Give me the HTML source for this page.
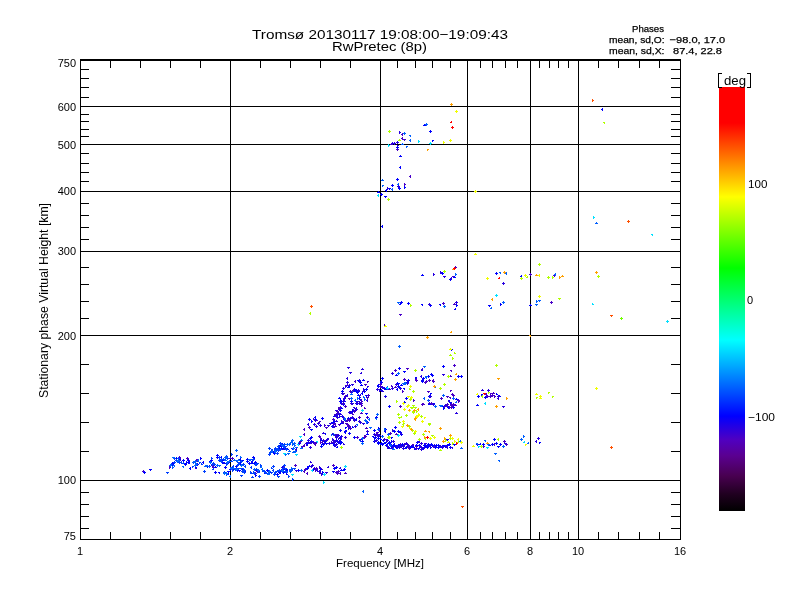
<!DOCTYPE html>
<html><head><meta charset="utf-8"><style>
html,body{margin:0;padding:0;background:#fff;width:800px;height:600px;overflow:hidden}
svg{display:block}
text{font-family:"Liberation Sans",sans-serif;fill:#000;stroke:#000;stroke-width:0px}
</style></head><body>
<svg width="800" height="600" viewBox="0 0 800 600" shape-rendering="crispEdges">
<defs><linearGradient id="cb" x1="0" y1="1" x2="0" y2="0">
<stop offset="0" stop-color="#000"/>
<stop offset="0.040" stop-color="#200020"/>
<stop offset="0.0825" stop-color="#480050"/>
<stop offset="0.13" stop-color="#5a0090"/>
<stop offset="0.1675" stop-color="#5000c0"/>
<stop offset="0.224" stop-color="#0000ff"/>
<stop offset="0.403" stop-color="#00ffff"/>
<stop offset="0.573" stop-color="#00ff00"/>
<stop offset="0.741" stop-color="#ffff00"/>
<stop offset="0.915" stop-color="#ff0000"/>
<stop offset="1" stop-color="#ff0000"/>
</linearGradient></defs>
<rect x="719" y="87" width="26" height="424" fill="url(#cb)"/>
<g><rect x="230" y="59" width="1" height="480" fill="#000"/>
<rect x="380" y="59" width="1" height="480" fill="#000"/>
<rect x="467" y="59" width="1" height="480" fill="#000"/>
<rect x="530" y="59" width="1" height="480" fill="#000"/>
<rect x="578" y="59" width="1" height="480" fill="#000"/>
<rect x="80" y="480" width="600" height="1" fill="#000"/>
<rect x="80" y="335" width="600" height="1" fill="#000"/>
<rect x="80" y="251" width="600" height="1" fill="#000"/>
<rect x="80" y="191" width="600" height="1" fill="#000"/>
<rect x="80" y="144" width="600" height="1" fill="#000"/>
<rect x="80" y="106" width="600" height="1" fill="#000"/>
<rect x="80" y="59" width="601" height="2" fill="#000"/>
<rect x="80" y="539" width="601" height="1" fill="#000"/>
<rect x="80" y="59" width="1" height="481" fill="#000"/>
<rect x="680" y="59" width="1" height="481" fill="#000"/>
<rect x="110" y="532" width="1" height="7" fill="#000"/>
<rect x="110" y="61" width="1" height="7" fill="#000"/>
<rect x="140" y="532" width="1" height="7" fill="#000"/>
<rect x="140" y="61" width="1" height="7" fill="#000"/>
<rect x="170" y="532" width="1" height="7" fill="#000"/>
<rect x="170" y="61" width="1" height="7" fill="#000"/>
<rect x="200" y="532" width="1" height="7" fill="#000"/>
<rect x="200" y="61" width="1" height="7" fill="#000"/>
<rect x="260" y="532" width="1" height="7" fill="#000"/>
<rect x="260" y="61" width="1" height="7" fill="#000"/>
<rect x="290" y="532" width="1" height="7" fill="#000"/>
<rect x="290" y="61" width="1" height="7" fill="#000"/>
<rect x="320" y="532" width="1" height="7" fill="#000"/>
<rect x="320" y="61" width="1" height="7" fill="#000"/>
<rect x="350" y="532" width="1" height="7" fill="#000"/>
<rect x="350" y="61" width="1" height="7" fill="#000"/>
<rect x="397" y="532" width="1" height="7" fill="#000"/>
<rect x="397" y="61" width="1" height="7" fill="#000"/>
<rect x="415" y="532" width="1" height="7" fill="#000"/>
<rect x="415" y="61" width="1" height="7" fill="#000"/>
<rect x="432" y="532" width="1" height="7" fill="#000"/>
<rect x="432" y="61" width="1" height="7" fill="#000"/>
<rect x="450" y="532" width="1" height="7" fill="#000"/>
<rect x="450" y="61" width="1" height="7" fill="#000"/>
<rect x="480" y="532" width="1" height="7" fill="#000"/>
<rect x="480" y="61" width="1" height="7" fill="#000"/>
<rect x="492" y="532" width="1" height="7" fill="#000"/>
<rect x="492" y="61" width="1" height="7" fill="#000"/>
<rect x="505" y="532" width="1" height="7" fill="#000"/>
<rect x="505" y="61" width="1" height="7" fill="#000"/>
<rect x="517" y="532" width="1" height="7" fill="#000"/>
<rect x="517" y="61" width="1" height="7" fill="#000"/>
<rect x="539" y="532" width="1" height="7" fill="#000"/>
<rect x="539" y="61" width="1" height="7" fill="#000"/>
<rect x="549" y="532" width="1" height="7" fill="#000"/>
<rect x="549" y="61" width="1" height="7" fill="#000"/>
<rect x="558" y="532" width="1" height="7" fill="#000"/>
<rect x="558" y="61" width="1" height="7" fill="#000"/>
<rect x="568" y="532" width="1" height="7" fill="#000"/>
<rect x="568" y="61" width="1" height="7" fill="#000"/>
<rect x="598" y="532" width="1" height="7" fill="#000"/>
<rect x="598" y="61" width="1" height="7" fill="#000"/>
<rect x="618" y="532" width="1" height="7" fill="#000"/>
<rect x="618" y="61" width="1" height="7" fill="#000"/>
<rect x="639" y="532" width="1" height="7" fill="#000"/>
<rect x="639" y="61" width="1" height="7" fill="#000"/>
<rect x="659" y="532" width="1" height="7" fill="#000"/>
<rect x="659" y="61" width="1" height="7" fill="#000"/>
<rect x="81" y="69" width="8" height="1" fill="#000"/>
<rect x="671" y="69" width="9" height="1" fill="#000"/>
<rect x="81" y="78" width="8" height="1" fill="#000"/>
<rect x="671" y="78" width="9" height="1" fill="#000"/>
<rect x="81" y="87" width="8" height="1" fill="#000"/>
<rect x="671" y="87" width="9" height="1" fill="#000"/>
<rect x="81" y="97" width="8" height="1" fill="#000"/>
<rect x="671" y="97" width="9" height="1" fill="#000"/>
<rect x="81" y="114" width="8" height="1" fill="#000"/>
<rect x="671" y="114" width="9" height="1" fill="#000"/>
<rect x="81" y="121" width="8" height="1" fill="#000"/>
<rect x="671" y="121" width="9" height="1" fill="#000"/>
<rect x="81" y="129" width="8" height="1" fill="#000"/>
<rect x="671" y="129" width="9" height="1" fill="#000"/>
<rect x="81" y="136" width="8" height="1" fill="#000"/>
<rect x="671" y="136" width="9" height="1" fill="#000"/>
<rect x="81" y="153" width="8" height="1" fill="#000"/>
<rect x="671" y="153" width="9" height="1" fill="#000"/>
<rect x="81" y="163" width="8" height="1" fill="#000"/>
<rect x="671" y="163" width="9" height="1" fill="#000"/>
<rect x="81" y="172" width="8" height="1" fill="#000"/>
<rect x="671" y="172" width="9" height="1" fill="#000"/>
<rect x="81" y="181" width="8" height="1" fill="#000"/>
<rect x="671" y="181" width="9" height="1" fill="#000"/>
<rect x="81" y="203" width="8" height="1" fill="#000"/>
<rect x="671" y="203" width="9" height="1" fill="#000"/>
<rect x="81" y="215" width="8" height="1" fill="#000"/>
<rect x="671" y="215" width="9" height="1" fill="#000"/>
<rect x="81" y="227" width="8" height="1" fill="#000"/>
<rect x="671" y="227" width="9" height="1" fill="#000"/>
<rect x="81" y="239" width="8" height="1" fill="#000"/>
<rect x="671" y="239" width="9" height="1" fill="#000"/>
<rect x="81" y="267" width="8" height="1" fill="#000"/>
<rect x="671" y="267" width="9" height="1" fill="#000"/>
<rect x="81" y="284" width="8" height="1" fill="#000"/>
<rect x="671" y="284" width="9" height="1" fill="#000"/>
<rect x="81" y="301" width="8" height="1" fill="#000"/>
<rect x="671" y="301" width="9" height="1" fill="#000"/>
<rect x="81" y="318" width="8" height="1" fill="#000"/>
<rect x="671" y="318" width="9" height="1" fill="#000"/>
<rect x="81" y="364" width="8" height="1" fill="#000"/>
<rect x="671" y="364" width="9" height="1" fill="#000"/>
<rect x="81" y="393" width="8" height="1" fill="#000"/>
<rect x="671" y="393" width="9" height="1" fill="#000"/>
<rect x="81" y="422" width="8" height="1" fill="#000"/>
<rect x="671" y="422" width="9" height="1" fill="#000"/>
<rect x="81" y="451" width="8" height="1" fill="#000"/>
<rect x="671" y="451" width="9" height="1" fill="#000"/>
<rect x="81" y="492" width="8" height="1" fill="#000"/>
<rect x="671" y="492" width="9" height="1" fill="#000"/>
<rect x="81" y="504" width="8" height="1" fill="#000"/>
<rect x="671" y="504" width="9" height="1" fill="#000"/>
<rect x="81" y="516" width="8" height="1" fill="#000"/>
<rect x="671" y="516" width="9" height="1" fill="#000"/>
<rect x="81" y="528" width="8" height="1" fill="#000"/>
<rect x="671" y="528" width="9" height="1" fill="#000"/></g>
<g><path d="M143 471h1v1h-1zM143 470h1v1h-1zM144 471h1v1h-1zM143 472h1v1h-1zM142 471h1v1h-1zM169 467h1v1h-1zM169 466h1v1h-1zM170 467h1v1h-1zM169 468h1v1h-1zM180 459h1v1h-1zM180 458h1v1h-1zM180 460h1v1h-1zM179 459h1v1h-1zM188 460h1v1h-1zM188 459h1v1h-1zM189 460h1v1h-1zM187 460h1v1h-1zM195 468h1v1h-1zM195 467h1v1h-1zM196 468h1v1h-1zM197 460h1v1h-1zM197 459h1v1h-1zM198 460h1v1h-1zM197 461h1v1h-1zM196 460h1v1h-1zM212 465h1v1h-1zM212 464h1v1h-1zM213 465h1v1h-1zM212 466h1v1h-1zM211 465h1v1h-1zM230 458h1v1h-1zM230 457h1v1h-1zM231 458h1v1h-1zM229 458h1v1h-1zM255 473h1v1h-1zM255 472h1v1h-1zM256 473h1v1h-1zM255 474h1v1h-1zM254 473h1v1h-1zM282 467h1v1h-1zM282 466h1v1h-1zM281 467h1v1h-1zM282 449h1v1h-1zM282 448h1v1h-1zM283 449h1v1h-1zM281 449h1v1h-1zM295 465h1v1h-1zM295 464h1v1h-1zM296 465h1v1h-1zM295 466h1v1h-1zM294 465h1v1h-1zM304 471h1v1h-1zM304 470h1v1h-1zM304 472h1v1h-1zM303 471h1v1h-1zM307 473h1v1h-1zM307 472h1v1h-1zM307 474h1v1h-1zM306 473h1v1h-1zM315 470h1v1h-1zM315 469h1v1h-1zM316 470h1v1h-1zM315 471h1v1h-1zM319 471h1v1h-1zM319 470h1v1h-1zM320 471h1v1h-1zM319 472h1v1h-1zM318 471h1v1h-1zM321 474h1v1h-1zM321 473h1v1h-1zM322 474h1v1h-1zM321 475h1v1h-1zM333 465h1v1h-1zM333 464h1v1h-1zM334 465h1v1h-1zM333 466h1v1h-1zM332 465h1v1h-1zM336 472h1v1h-1zM336 471h1v1h-1zM337 472h1v1h-1zM335 472h1v1h-1zM338 471h1v1h-1zM338 470h1v1h-1zM339 471h1v1h-1zM337 471h1v1h-1zM340 473h1v1h-1zM340 472h1v1h-1zM340 474h1v1h-1zM339 473h1v1h-1zM345 473h1v1h-1zM345 472h1v1h-1zM346 473h1v1h-1zM344 473h1v1h-1zM304 445h1v1h-1zM304 444h1v1h-1zM304 446h1v1h-1zM303 445h1v1h-1zM315 444h1v1h-1zM315 443h1v1h-1zM315 445h1v1h-1zM314 444h1v1h-1zM320 442h1v1h-1zM320 441h1v1h-1zM321 442h1v1h-1zM320 443h1v1h-1zM304 429h1v1h-1zM304 428h1v1h-1zM304 430h1v1h-1zM303 429h1v1h-1zM304 434h1v1h-1zM304 433h1v1h-1zM304 435h1v1h-1zM303 434h1v1h-1zM309 427h1v1h-1zM309 426h1v1h-1zM310 427h1v1h-1zM309 428h1v1h-1zM308 427h1v1h-1zM316 420h1v1h-1zM316 419h1v1h-1zM317 420h1v1h-1zM315 420h1v1h-1zM319 421h1v1h-1zM320 421h1v1h-1zM319 422h1v1h-1zM326 427h1v1h-1zM327 427h1v1h-1zM326 428h1v1h-1zM325 427h1v1h-1zM319 436h1v1h-1zM319 435h1v1h-1zM320 436h1v1h-1zM319 437h1v1h-1zM318 436h1v1h-1zM307 443h1v1h-1zM307 442h1v1h-1zM308 443h1v1h-1zM315 443h1v1h-1zM315 442h1v1h-1zM316 443h1v1h-1zM315 444h1v1h-1zM322 441h1v1h-1zM322 440h1v1h-1zM323 441h1v1h-1zM322 442h1v1h-1zM333 423h1v1h-1zM333 422h1v1h-1zM334 423h1v1h-1zM333 424h1v1h-1zM332 423h1v1h-1zM365 384h1v1h-1zM366 384h1v1h-1zM365 385h1v1h-1zM364 384h1v1h-1zM349 385h1v1h-1zM349 384h1v1h-1zM349 386h1v1h-1zM348 385h1v1h-1zM345 396h1v1h-1zM345 395h1v1h-1zM346 396h1v1h-1zM345 397h1v1h-1zM344 396h1v1h-1zM349 398h1v1h-1zM349 399h1v1h-1zM348 398h1v1h-1zM380 386h1v1h-1zM381 386h1v1h-1zM380 387h1v1h-1zM379 386h1v1h-1zM352 403h1v1h-1zM353 403h1v1h-1zM352 404h1v1h-1zM351 403h1v1h-1zM340 407h1v1h-1zM340 406h1v1h-1zM340 408h1v1h-1zM339 407h1v1h-1zM334 421h1v1h-1zM334 420h1v1h-1zM335 421h1v1h-1zM334 422h1v1h-1zM333 421h1v1h-1zM334 424h1v1h-1zM334 423h1v1h-1zM335 424h1v1h-1zM333 424h1v1h-1zM347 424h1v1h-1zM347 423h1v1h-1zM348 424h1v1h-1zM347 425h1v1h-1zM346 424h1v1h-1zM352 414h1v1h-1zM352 413h1v1h-1zM353 414h1v1h-1zM359 417h1v1h-1zM359 416h1v1h-1zM360 417h1v1h-1zM359 418h1v1h-1zM358 417h1v1h-1zM364 408h1v1h-1zM364 407h1v1h-1zM365 408h1v1h-1zM361 413h1v1h-1zM361 412h1v1h-1zM362 413h1v1h-1zM360 413h1v1h-1zM341 439h1v1h-1zM341 438h1v1h-1zM340 439h1v1h-1zM366 428h1v1h-1zM366 427h1v1h-1zM367 428h1v1h-1zM365 428h1v1h-1zM357 437h1v1h-1zM357 436h1v1h-1zM358 437h1v1h-1zM357 438h1v1h-1zM356 437h1v1h-1zM364 436h1v1h-1zM364 435h1v1h-1zM365 436h1v1h-1zM364 437h1v1h-1zM376 434h1v1h-1zM376 433h1v1h-1zM377 434h1v1h-1zM376 435h1v1h-1zM375 434h1v1h-1zM384 439h1v1h-1zM384 438h1v1h-1zM385 439h1v1h-1zM384 440h1v1h-1zM383 439h1v1h-1zM395 370h1v1h-1zM395 369h1v1h-1zM396 370h1v1h-1zM395 371h1v1h-1zM394 370h1v1h-1zM407 368h1v1h-1zM408 368h1v1h-1zM407 369h1v1h-1zM406 368h1v1h-1zM422 369h1v1h-1zM422 368h1v1h-1zM421 369h1v1h-1zM429 380h1v1h-1zM429 379h1v1h-1zM430 380h1v1h-1zM433 380h1v1h-1zM433 379h1v1h-1zM433 381h1v1h-1zM432 380h1v1h-1zM416 379h1v1h-1zM416 378h1v1h-1zM415 379h1v1h-1zM404 379h1v1h-1zM404 378h1v1h-1zM405 379h1v1h-1zM404 380h1v1h-1zM403 379h1v1h-1zM382 387h1v1h-1zM382 386h1v1h-1zM383 387h1v1h-1zM382 388h1v1h-1zM391 386h1v1h-1zM391 385h1v1h-1zM392 386h1v1h-1zM395 387h1v1h-1zM395 386h1v1h-1zM396 387h1v1h-1zM394 387h1v1h-1zM402 391h1v1h-1zM402 390h1v1h-1zM403 391h1v1h-1zM402 392h1v1h-1zM380 384h1v1h-1zM380 383h1v1h-1zM381 384h1v1h-1zM380 385h1v1h-1zM379 384h1v1h-1zM416 380h1v1h-1zM417 380h1v1h-1zM416 381h1v1h-1zM415 380h1v1h-1zM425 382h1v1h-1zM425 381h1v1h-1zM425 383h1v1h-1zM424 382h1v1h-1zM413 400h1v1h-1zM413 399h1v1h-1zM414 400h1v1h-1zM413 401h1v1h-1zM400 406h1v1h-1zM400 405h1v1h-1zM401 406h1v1h-1zM400 407h1v1h-1zM399 406h1v1h-1zM422 404h1v1h-1zM422 403h1v1h-1zM423 404h1v1h-1zM422 405h1v1h-1zM421 404h1v1h-1zM428 391h1v1h-1zM429 391h1v1h-1zM428 392h1v1h-1zM427 391h1v1h-1zM454 365h1v1h-1zM454 364h1v1h-1zM455 365h1v1h-1zM454 366h1v1h-1zM453 365h1v1h-1zM451 370h1v1h-1zM451 371h1v1h-1zM450 370h1v1h-1zM450 376h1v1h-1zM450 375h1v1h-1zM451 376h1v1h-1zM426 381h1v1h-1zM426 380h1v1h-1zM427 381h1v1h-1zM426 382h1v1h-1zM425 381h1v1h-1zM429 380h1v1h-1zM429 379h1v1h-1zM429 381h1v1h-1zM428 380h1v1h-1zM433 381h1v1h-1zM433 380h1v1h-1zM434 381h1v1h-1zM433 382h1v1h-1zM432 381h1v1h-1zM450 390h1v1h-1zM451 390h1v1h-1zM450 391h1v1h-1zM428 391h1v1h-1zM429 391h1v1h-1zM428 392h1v1h-1zM427 391h1v1h-1zM447 396h1v1h-1zM448 396h1v1h-1zM447 397h1v1h-1zM446 396h1v1h-1zM441 398h1v1h-1zM441 397h1v1h-1zM442 398h1v1h-1zM441 399h1v1h-1zM440 398h1v1h-1zM452 394h1v1h-1zM452 393h1v1h-1zM451 394h1v1h-1zM453 395h1v1h-1zM453 394h1v1h-1zM454 395h1v1h-1zM453 396h1v1h-1zM452 395h1v1h-1zM450 397h1v1h-1zM450 398h1v1h-1zM449 397h1v1h-1zM458 400h1v1h-1zM458 399h1v1h-1zM459 400h1v1h-1zM458 401h1v1h-1zM457 400h1v1h-1zM429 403h1v1h-1zM429 402h1v1h-1zM430 403h1v1h-1zM428 403h1v1h-1zM447 404h1v1h-1zM447 403h1v1h-1zM448 404h1v1h-1zM447 405h1v1h-1zM446 404h1v1h-1zM451 404h1v1h-1zM451 403h1v1h-1zM452 404h1v1h-1zM451 405h1v1h-1zM450 404h1v1h-1zM453 404h1v1h-1zM453 403h1v1h-1zM454 404h1v1h-1zM453 405h1v1h-1zM423 404h1v1h-1zM423 403h1v1h-1zM424 404h1v1h-1zM422 404h1v1h-1zM431 403h1v1h-1zM431 402h1v1h-1zM432 403h1v1h-1zM431 404h1v1h-1zM430 403h1v1h-1zM444 406h1v1h-1zM444 405h1v1h-1zM445 406h1v1h-1zM444 407h1v1h-1zM443 406h1v1h-1zM447 406h1v1h-1zM447 405h1v1h-1zM448 406h1v1h-1zM451 405h1v1h-1zM451 404h1v1h-1zM451 406h1v1h-1zM450 405h1v1h-1zM453 405h1v1h-1zM453 404h1v1h-1zM454 405h1v1h-1zM449 407h1v1h-1zM449 406h1v1h-1zM449 408h1v1h-1zM448 407h1v1h-1zM458 401h1v1h-1zM458 400h1v1h-1zM459 401h1v1h-1zM458 402h1v1h-1zM409 448h1v1h-1zM409 449h1v1h-1zM408 448h1v1h-1zM414 448h1v1h-1zM414 447h1v1h-1zM415 448h1v1h-1zM414 449h1v1h-1zM366 428h1v1h-1zM366 427h1v1h-1zM367 428h1v1h-1zM365 428h1v1h-1zM379 430h1v1h-1zM379 431h1v1h-1zM378 430h1v1h-1zM377 432h1v1h-1zM378 432h1v1h-1zM377 433h1v1h-1zM376 432h1v1h-1zM384 439h1v1h-1zM384 438h1v1h-1zM385 439h1v1h-1zM384 440h1v1h-1zM383 439h1v1h-1zM386 440h1v1h-1zM386 439h1v1h-1zM387 440h1v1h-1zM386 441h1v1h-1zM390 433h1v1h-1zM390 432h1v1h-1zM391 433h1v1h-1zM390 434h1v1h-1zM389 433h1v1h-1zM396 434h1v1h-1zM396 433h1v1h-1zM397 434h1v1h-1zM395 434h1v1h-1zM365 436h1v1h-1zM365 435h1v1h-1zM366 436h1v1h-1zM365 437h1v1h-1zM364 436h1v1h-1zM446 406h1v1h-1zM446 405h1v1h-1zM447 406h1v1h-1zM445 406h1v1h-1zM451 407h1v1h-1zM452 407h1v1h-1zM451 408h1v1h-1zM450 407h1v1h-1zM452 405h1v1h-1zM453 405h1v1h-1zM452 406h1v1h-1zM451 405h1v1h-1zM455 405h1v1h-1zM455 404h1v1h-1zM456 405h1v1h-1zM486 394h1v1h-1zM486 393h1v1h-1zM486 395h1v1h-1zM485 394h1v1h-1zM487 396h1v1h-1zM487 395h1v1h-1zM488 396h1v1h-1zM487 397h1v1h-1zM486 396h1v1h-1zM490 393h1v1h-1zM491 393h1v1h-1zM490 394h1v1h-1zM490 396h1v1h-1zM490 395h1v1h-1zM491 396h1v1h-1zM490 397h1v1h-1zM489 396h1v1h-1zM492 395h1v1h-1zM492 394h1v1h-1zM493 395h1v1h-1zM492 396h1v1h-1zM491 395h1v1h-1zM493 393h1v1h-1zM493 392h1v1h-1zM494 393h1v1h-1zM492 393h1v1h-1zM494 396h1v1h-1zM494 395h1v1h-1zM495 396h1v1h-1zM494 397h1v1h-1zM483 446h1v1h-1zM483 445h1v1h-1zM484 446h1v1h-1zM483 447h1v1h-1zM482 446h1v1h-1zM494 444h1v1h-1zM494 443h1v1h-1zM494 445h1v1h-1zM493 444h1v1h-1zM504 441h1v1h-1zM504 440h1v1h-1zM505 441h1v1h-1zM504 442h1v1h-1zM503 441h1v1h-1zM506 444h1v1h-1zM507 444h1v1h-1zM506 445h1v1h-1zM505 444h1v1h-1zM402 134h1v1h-1zM402 133h1v1h-1zM402 135h1v1h-1zM401 134h1v1h-1zM402 138h1v1h-1zM402 137h1v1h-1zM402 139h1v1h-1zM401 138h1v1h-1zM404 139h1v1h-1zM405 139h1v1h-1zM404 140h1v1h-1zM403 139h1v1h-1zM397 149h1v1h-1zM397 148h1v1h-1zM398 149h1v1h-1zM397 150h1v1h-1zM396 149h1v1h-1zM391 144h1v1h-1zM391 143h1v1h-1zM392 144h1v1h-1zM390 144h1v1h-1zM410 176h1v1h-1zM410 175h1v1h-1zM410 177h1v1h-1zM409 176h1v1h-1zM404 184h1v1h-1zM404 183h1v1h-1zM405 184h1v1h-1zM404 185h1v1h-1zM455 267h1v1h-1zM455 266h1v1h-1zM456 267h1v1h-1zM455 268h1v1h-1zM453 276h1v1h-1zM454 276h1v1h-1zM453 277h1v1h-1zM452 276h1v1h-1zM443 303h1v1h-1zM443 302h1v1h-1zM444 303h1v1h-1zM443 304h1v1h-1zM442 303h1v1h-1zM454 304h1v1h-1zM454 303h1v1h-1zM455 304h1v1h-1zM453 304h1v1h-1zM400 314h1v1h-1zM401 314h1v1h-1zM400 315h1v1h-1zM399 314h1v1h-1zM384 325h1v1h-1zM384 324h1v1h-1zM385 325h1v1h-1zM384 326h1v1h-1zM530 274h1v1h-1zM530 273h1v1h-1zM531 274h1v1h-1zM530 275h1v1h-1zM529 274h1v1h-1zM554 275h1v1h-1zM554 274h1v1h-1zM555 275h1v1h-1zM554 276h1v1h-1zM553 275h1v1h-1zM551 302h1v1h-1zM551 301h1v1h-1zM552 302h1v1h-1zM551 303h1v1h-1zM550 302h1v1h-1zM388 448h1v1h-1zM388 447h1v1h-1zM389 448h1v1h-1zM387 448h1v1h-1zM400 444h1v1h-1zM400 443h1v1h-1zM401 444h1v1h-1zM400 445h1v1h-1zM409 446h1v1h-1zM409 445h1v1h-1zM409 447h1v1h-1zM408 446h1v1h-1zM408 447h1v1h-1zM408 446h1v1h-1zM409 447h1v1h-1zM408 448h1v1h-1zM407 447h1v1h-1zM412 444h1v1h-1zM413 444h1v1h-1zM412 445h1v1h-1zM416 446h1v1h-1zM416 445h1v1h-1zM417 446h1v1h-1zM416 447h1v1h-1zM415 446h1v1h-1zM427 447h1v1h-1zM427 446h1v1h-1zM428 447h1v1h-1zM427 448h1v1h-1zM426 447h1v1h-1zM433 446h1v1h-1zM433 445h1v1h-1zM434 446h1v1h-1zM433 447h1v1h-1zM434 445h1v1h-1zM434 444h1v1h-1zM434 446h1v1h-1zM433 445h1v1h-1zM442 447h1v1h-1zM442 446h1v1h-1zM443 447h1v1h-1zM442 448h1v1h-1zM441 447h1v1h-1zM445 446h1v1h-1zM445 445h1v1h-1zM446 446h1v1h-1zM445 447h1v1h-1zM444 446h1v1h-1zM179 457h1v1h-1zM179 456h1v1h-1zM180 457h1v1h-1zM187 458h1v1h-1zM187 457h1v1h-1zM188 458h1v1h-1zM187 459h1v1h-1zM186 458h1v1h-1zM196 460h1v1h-1zM196 459h1v1h-1zM196 461h1v1h-1zM195 460h1v1h-1zM213 467h1v1h-1zM213 466h1v1h-1zM214 467h1v1h-1zM213 468h1v1h-1zM212 467h1v1h-1zM232 458h1v1h-1zM232 457h1v1h-1zM233 458h1v1h-1zM232 459h1v1h-1zM231 458h1v1h-1zM257 471h1v1h-1zM258 471h1v1h-1zM257 472h1v1h-1zM256 471h1v1h-1zM283 467h1v1h-1zM283 466h1v1h-1zM284 467h1v1h-1zM283 468h1v1h-1zM282 467h1v1h-1zM281 448h1v1h-1zM281 447h1v1h-1zM282 448h1v1h-1zM281 449h1v1h-1zM280 448h1v1h-1zM305 469h1v1h-1zM305 468h1v1h-1zM306 469h1v1h-1zM305 470h1v1h-1zM304 469h1v1h-1zM316 468h1v1h-1zM316 467h1v1h-1zM317 468h1v1h-1zM316 469h1v1h-1zM315 468h1v1h-1zM321 469h1v1h-1zM321 468h1v1h-1zM322 469h1v1h-1zM320 469h1v1h-1zM320 473h1v1h-1zM320 472h1v1h-1zM321 473h1v1h-1zM319 473h1v1h-1zM338 472h1v1h-1zM338 471h1v1h-1zM338 473h1v1h-1zM337 472h1v1h-1zM337 473h1v1h-1zM338 473h1v1h-1zM337 474h1v1h-1zM336 473h1v1h-1zM338 471h1v1h-1zM338 472h1v1h-1zM337 471h1v1h-1zM302 446h1v1h-1zM303 446h1v1h-1zM302 447h1v1h-1zM301 446h1v1h-1zM314 443h1v1h-1zM314 442h1v1h-1zM315 443h1v1h-1zM314 444h1v1h-1zM313 443h1v1h-1zM322 444h1v1h-1zM322 443h1v1h-1zM323 444h1v1h-1zM315 420h1v1h-1zM315 419h1v1h-1zM316 420h1v1h-1zM315 421h1v1h-1zM314 420h1v1h-1zM318 423h1v1h-1zM318 422h1v1h-1zM319 423h1v1h-1zM317 423h1v1h-1zM306 443h1v1h-1zM306 442h1v1h-1zM306 444h1v1h-1zM305 443h1v1h-1zM316 442h1v1h-1zM316 441h1v1h-1zM317 442h1v1h-1zM316 443h1v1h-1zM323 440h1v1h-1zM323 439h1v1h-1zM324 440h1v1h-1zM323 441h1v1h-1zM322 440h1v1h-1zM334 423h1v1h-1zM334 422h1v1h-1zM335 423h1v1h-1zM334 424h1v1h-1zM333 423h1v1h-1zM347 385h1v1h-1zM347 384h1v1h-1zM346 385h1v1h-1zM351 403h1v1h-1zM351 402h1v1h-1zM352 403h1v1h-1zM351 404h1v1h-1zM350 403h1v1h-1zM339 409h1v1h-1zM339 410h1v1h-1zM338 409h1v1h-1zM333 419h1v1h-1zM333 418h1v1h-1zM334 419h1v1h-1zM333 420h1v1h-1zM332 419h1v1h-1zM335 426h1v1h-1zM335 425h1v1h-1zM336 426h1v1h-1zM334 426h1v1h-1zM346 423h1v1h-1zM347 423h1v1h-1zM346 424h1v1h-1zM345 423h1v1h-1zM351 412h1v1h-1zM351 411h1v1h-1zM351 413h1v1h-1zM350 412h1v1h-1zM340 441h1v1h-1zM340 440h1v1h-1zM341 441h1v1h-1zM340 442h1v1h-1zM339 441h1v1h-1zM363 438h1v1h-1zM363 437h1v1h-1zM364 438h1v1h-1zM362 438h1v1h-1z" fill="#4800c8"/>
<path d="M144 472h1v1h-1zM144 471h1v1h-1zM145 472h1v1h-1zM144 473h1v1h-1zM143 472h1v1h-1zM150 469h1v1h-1zM151 469h1v1h-1zM150 470h1v1h-1zM149 469h1v1h-1zM172 464h1v1h-1zM172 463h1v1h-1zM173 464h1v1h-1zM172 465h1v1h-1zM171 464h1v1h-1zM176 458h1v1h-1zM176 457h1v1h-1zM177 458h1v1h-1zM176 459h1v1h-1zM185 464h1v1h-1zM185 463h1v1h-1zM186 464h1v1h-1zM185 465h1v1h-1zM184 464h1v1h-1zM186 462h1v1h-1zM186 461h1v1h-1zM187 462h1v1h-1zM186 463h1v1h-1zM189 462h1v1h-1zM189 461h1v1h-1zM189 463h1v1h-1zM188 462h1v1h-1zM200 458h1v1h-1zM200 457h1v1h-1zM201 458h1v1h-1zM200 459h1v1h-1zM203 462h1v1h-1zM203 461h1v1h-1zM203 463h1v1h-1zM202 462h1v1h-1zM207 466h1v1h-1zM207 465h1v1h-1zM208 466h1v1h-1zM207 467h1v1h-1zM210 461h1v1h-1zM210 460h1v1h-1zM210 462h1v1h-1zM209 461h1v1h-1zM215 467h1v1h-1zM215 466h1v1h-1zM216 467h1v1h-1zM214 467h1v1h-1zM217 457h1v1h-1zM217 456h1v1h-1zM218 457h1v1h-1zM217 458h1v1h-1zM216 457h1v1h-1zM222 462h1v1h-1zM222 461h1v1h-1zM223 462h1v1h-1zM222 463h1v1h-1zM221 462h1v1h-1zM225 467h1v1h-1zM225 466h1v1h-1zM226 467h1v1h-1zM225 468h1v1h-1zM224 467h1v1h-1zM215 472h1v1h-1zM215 471h1v1h-1zM216 472h1v1h-1zM215 473h1v1h-1zM214 472h1v1h-1zM219 472h1v1h-1zM219 473h1v1h-1zM218 472h1v1h-1zM228 471h1v1h-1zM229 471h1v1h-1zM228 472h1v1h-1zM227 471h1v1h-1zM228 474h1v1h-1zM228 473h1v1h-1zM227 474h1v1h-1zM240 459h1v1h-1zM240 458h1v1h-1zM240 460h1v1h-1zM239 459h1v1h-1zM245 470h1v1h-1zM245 471h1v1h-1zM244 470h1v1h-1zM237 470h1v1h-1zM237 469h1v1h-1zM238 470h1v1h-1zM237 471h1v1h-1zM236 470h1v1h-1zM239 470h1v1h-1zM240 470h1v1h-1zM239 471h1v1h-1zM238 470h1v1h-1zM247 459h1v1h-1zM247 458h1v1h-1zM248 459h1v1h-1zM247 460h1v1h-1zM246 459h1v1h-1zM247 461h1v1h-1zM247 460h1v1h-1zM248 461h1v1h-1zM247 462h1v1h-1zM246 461h1v1h-1zM254 458h1v1h-1zM254 457h1v1h-1zM254 459h1v1h-1zM253 458h1v1h-1zM251 461h1v1h-1zM252 461h1v1h-1zM251 462h1v1h-1zM254 463h1v1h-1zM255 463h1v1h-1zM254 464h1v1h-1zM253 463h1v1h-1zM255 475h1v1h-1zM255 474h1v1h-1zM256 475h1v1h-1zM255 476h1v1h-1zM259 471h1v1h-1zM259 470h1v1h-1zM258 471h1v1h-1zM267 470h1v1h-1zM267 469h1v1h-1zM268 470h1v1h-1zM267 471h1v1h-1zM266 470h1v1h-1zM279 472h1v1h-1zM279 471h1v1h-1zM280 472h1v1h-1zM279 473h1v1h-1zM278 472h1v1h-1zM281 470h1v1h-1zM281 469h1v1h-1zM281 471h1v1h-1zM280 470h1v1h-1zM283 472h1v1h-1zM284 472h1v1h-1zM283 473h1v1h-1zM279 447h1v1h-1zM279 446h1v1h-1zM279 448h1v1h-1zM278 447h1v1h-1zM281 446h1v1h-1zM281 445h1v1h-1zM282 446h1v1h-1zM281 447h1v1h-1zM280 446h1v1h-1zM273 452h1v1h-1zM273 451h1v1h-1zM273 453h1v1h-1zM272 452h1v1h-1zM280 445h1v1h-1zM280 444h1v1h-1zM281 445h1v1h-1zM280 446h1v1h-1zM279 445h1v1h-1zM282 467h1v1h-1zM282 466h1v1h-1zM283 467h1v1h-1zM282 468h1v1h-1zM281 470h1v1h-1zM281 469h1v1h-1zM282 470h1v1h-1zM281 471h1v1h-1zM280 470h1v1h-1zM285 470h1v1h-1zM285 469h1v1h-1zM286 470h1v1h-1zM287 469h1v1h-1zM287 470h1v1h-1zM286 469h1v1h-1zM286 474h1v1h-1zM286 473h1v1h-1zM287 474h1v1h-1zM298 470h1v1h-1zM298 469h1v1h-1zM299 470h1v1h-1zM298 471h1v1h-1zM297 470h1v1h-1zM307 468h1v1h-1zM307 467h1v1h-1zM308 468h1v1h-1zM307 469h1v1h-1zM306 468h1v1h-1zM309 466h1v1h-1zM309 465h1v1h-1zM310 466h1v1h-1zM308 466h1v1h-1zM320 469h1v1h-1zM320 468h1v1h-1zM321 469h1v1h-1zM320 470h1v1h-1zM322 472h1v1h-1zM322 471h1v1h-1zM323 472h1v1h-1zM322 473h1v1h-1zM334 468h1v1h-1zM334 467h1v1h-1zM335 468h1v1h-1zM334 469h1v1h-1zM333 468h1v1h-1zM333 471h1v1h-1zM334 471h1v1h-1zM333 472h1v1h-1zM332 471h1v1h-1zM341 470h1v1h-1zM341 469h1v1h-1zM342 470h1v1h-1zM340 470h1v1h-1zM344 469h1v1h-1zM344 468h1v1h-1zM345 469h1v1h-1zM343 469h1v1h-1zM284 448h1v1h-1zM284 447h1v1h-1zM285 448h1v1h-1zM284 449h1v1h-1zM283 448h1v1h-1zM287 449h1v1h-1zM287 448h1v1h-1zM288 449h1v1h-1zM286 449h1v1h-1zM292 448h1v1h-1zM293 448h1v1h-1zM292 449h1v1h-1zM291 448h1v1h-1zM292 441h1v1h-1zM292 440h1v1h-1zM292 442h1v1h-1zM291 441h1v1h-1zM307 443h1v1h-1zM307 442h1v1h-1zM308 443h1v1h-1zM307 444h1v1h-1zM306 443h1v1h-1zM323 444h1v1h-1zM323 443h1v1h-1zM324 444h1v1h-1zM323 445h1v1h-1zM322 444h1v1h-1zM326 443h1v1h-1zM327 443h1v1h-1zM326 444h1v1h-1zM325 443h1v1h-1zM325 441h1v1h-1zM325 442h1v1h-1zM324 441h1v1h-1zM333 443h1v1h-1zM333 442h1v1h-1zM334 443h1v1h-1zM333 444h1v1h-1zM332 443h1v1h-1zM338 442h1v1h-1zM338 441h1v1h-1zM339 442h1v1h-1zM338 443h1v1h-1zM337 442h1v1h-1zM341 442h1v1h-1zM341 441h1v1h-1zM342 442h1v1h-1zM341 443h1v1h-1zM340 442h1v1h-1zM337 447h1v1h-1zM337 446h1v1h-1zM336 447h1v1h-1zM311 429h1v1h-1zM312 429h1v1h-1zM311 430h1v1h-1zM310 429h1v1h-1zM311 421h1v1h-1zM311 420h1v1h-1zM312 421h1v1h-1zM311 422h1v1h-1zM315 417h1v1h-1zM315 416h1v1h-1zM315 418h1v1h-1zM314 417h1v1h-1zM322 418h1v1h-1zM322 417h1v1h-1zM323 418h1v1h-1zM322 419h1v1h-1zM321 418h1v1h-1zM325 433h1v1h-1zM325 434h1v1h-1zM324 433h1v1h-1zM311 437h1v1h-1zM311 436h1v1h-1zM312 437h1v1h-1zM311 438h1v1h-1zM310 437h1v1h-1zM282 444h1v1h-1zM282 443h1v1h-1zM283 444h1v1h-1zM282 445h1v1h-1zM281 444h1v1h-1zM336 435h1v1h-1zM336 436h1v1h-1zM335 435h1v1h-1zM337 413h1v1h-1zM337 412h1v1h-1zM338 413h1v1h-1zM337 414h1v1h-1zM336 413h1v1h-1zM358 380h1v1h-1zM358 381h1v1h-1zM357 380h1v1h-1zM360 382h1v1h-1zM360 381h1v1h-1zM361 382h1v1h-1zM360 383h1v1h-1zM359 382h1v1h-1zM361 385h1v1h-1zM361 384h1v1h-1zM362 385h1v1h-1zM360 385h1v1h-1zM363 380h1v1h-1zM363 379h1v1h-1zM364 380h1v1h-1zM362 380h1v1h-1zM348 387h1v1h-1zM348 386h1v1h-1zM349 387h1v1h-1zM347 387h1v1h-1zM342 391h1v1h-1zM342 390h1v1h-1zM343 391h1v1h-1zM342 392h1v1h-1zM341 391h1v1h-1zM354 389h1v1h-1zM354 388h1v1h-1zM355 389h1v1h-1zM354 390h1v1h-1zM353 389h1v1h-1zM356 391h1v1h-1zM357 391h1v1h-1zM356 392h1v1h-1zM355 391h1v1h-1zM357 392h1v1h-1zM357 391h1v1h-1zM358 392h1v1h-1zM357 393h1v1h-1zM356 392h1v1h-1zM364 391h1v1h-1zM364 390h1v1h-1zM365 391h1v1h-1zM364 392h1v1h-1zM363 391h1v1h-1zM362 393h1v1h-1zM362 392h1v1h-1zM362 394h1v1h-1zM361 393h1v1h-1zM340 400h1v1h-1zM340 399h1v1h-1zM341 400h1v1h-1zM340 401h1v1h-1zM366 395h1v1h-1zM367 395h1v1h-1zM366 396h1v1h-1zM365 395h1v1h-1zM357 403h1v1h-1zM357 402h1v1h-1zM358 403h1v1h-1zM357 404h1v1h-1zM356 403h1v1h-1zM382 378h1v1h-1zM382 377h1v1h-1zM383 378h1v1h-1zM382 379h1v1h-1zM381 378h1v1h-1zM381 382h1v1h-1zM381 381h1v1h-1zM382 382h1v1h-1zM381 383h1v1h-1zM380 382h1v1h-1zM378 385h1v1h-1zM378 384h1v1h-1zM378 386h1v1h-1zM377 385h1v1h-1zM384 388h1v1h-1zM384 387h1v1h-1zM385 388h1v1h-1zM384 389h1v1h-1zM383 388h1v1h-1zM340 401h1v1h-1zM340 400h1v1h-1zM341 401h1v1h-1zM340 402h1v1h-1zM339 401h1v1h-1zM344 401h1v1h-1zM344 400h1v1h-1zM345 401h1v1h-1zM343 404h1v1h-1zM343 403h1v1h-1zM344 404h1v1h-1zM343 405h1v1h-1zM334 416h1v1h-1zM334 415h1v1h-1zM333 416h1v1h-1zM348 418h1v1h-1zM348 417h1v1h-1zM349 418h1v1h-1zM348 419h1v1h-1zM347 418h1v1h-1zM332 422h1v1h-1zM333 422h1v1h-1zM332 423h1v1h-1zM331 422h1v1h-1zM352 410h1v1h-1zM352 409h1v1h-1zM353 410h1v1h-1zM350 412h1v1h-1zM350 411h1v1h-1zM351 412h1v1h-1zM350 413h1v1h-1zM349 412h1v1h-1zM356 419h1v1h-1zM356 418h1v1h-1zM356 420h1v1h-1zM355 419h1v1h-1zM366 413h1v1h-1zM367 413h1v1h-1zM366 414h1v1h-1zM365 413h1v1h-1zM367 422h1v1h-1zM367 421h1v1h-1zM368 422h1v1h-1zM367 423h1v1h-1zM366 422h1v1h-1zM352 427h1v1h-1zM352 426h1v1h-1zM353 427h1v1h-1zM345 427h1v1h-1zM346 427h1v1h-1zM345 428h1v1h-1zM345 431h1v1h-1zM345 430h1v1h-1zM346 431h1v1h-1zM345 432h1v1h-1zM344 431h1v1h-1zM340 430h1v1h-1zM340 429h1v1h-1zM341 430h1v1h-1zM340 431h1v1h-1zM339 430h1v1h-1zM346 431h1v1h-1zM346 430h1v1h-1zM345 431h1v1h-1zM349 433h1v1h-1zM349 432h1v1h-1zM350 433h1v1h-1zM349 434h1v1h-1zM348 433h1v1h-1zM333 440h1v1h-1zM334 440h1v1h-1zM333 441h1v1h-1zM332 440h1v1h-1zM340 443h1v1h-1zM340 442h1v1h-1zM341 443h1v1h-1zM340 444h1v1h-1zM339 443h1v1h-1zM367 434h1v1h-1zM367 433h1v1h-1zM368 434h1v1h-1zM374 430h1v1h-1zM374 429h1v1h-1zM373 430h1v1h-1zM354 437h1v1h-1zM354 436h1v1h-1zM355 437h1v1h-1zM354 438h1v1h-1zM353 437h1v1h-1zM379 435h1v1h-1zM379 434h1v1h-1zM380 435h1v1h-1zM379 436h1v1h-1zM375 437h1v1h-1zM376 437h1v1h-1zM375 438h1v1h-1zM374 437h1v1h-1zM378 438h1v1h-1zM378 437h1v1h-1zM379 438h1v1h-1zM378 439h1v1h-1zM377 438h1v1h-1zM382 436h1v1h-1zM382 435h1v1h-1zM381 436h1v1h-1zM389 442h1v1h-1zM389 441h1v1h-1zM390 442h1v1h-1zM389 443h1v1h-1zM388 442h1v1h-1zM378 442h1v1h-1zM378 441h1v1h-1zM379 442h1v1h-1zM378 443h1v1h-1zM377 442h1v1h-1zM381 443h1v1h-1zM381 442h1v1h-1zM382 443h1v1h-1zM381 444h1v1h-1zM380 443h1v1h-1zM384 443h1v1h-1zM384 442h1v1h-1zM383 443h1v1h-1zM385 429h1v1h-1zM385 428h1v1h-1zM386 429h1v1h-1zM389 406h1v1h-1zM389 407h1v1h-1zM388 406h1v1h-1zM399 368h1v1h-1zM399 367h1v1h-1zM400 368h1v1h-1zM399 369h1v1h-1zM398 368h1v1h-1zM396 375h1v1h-1zM396 374h1v1h-1zM397 375h1v1h-1zM395 375h1v1h-1zM404 371h1v1h-1zM405 371h1v1h-1zM404 372h1v1h-1zM403 371h1v1h-1zM423 378h1v1h-1zM423 377h1v1h-1zM424 378h1v1h-1zM423 379h1v1h-1zM422 378h1v1h-1zM422 380h1v1h-1zM422 379h1v1h-1zM423 380h1v1h-1zM421 380h1v1h-1zM428 376h1v1h-1zM428 375h1v1h-1zM429 376h1v1h-1zM428 377h1v1h-1zM427 376h1v1h-1zM431 374h1v1h-1zM431 373h1v1h-1zM432 374h1v1h-1zM431 375h1v1h-1zM430 374h1v1h-1zM415 377h1v1h-1zM416 377h1v1h-1zM415 378h1v1h-1zM397 383h1v1h-1zM397 382h1v1h-1zM398 383h1v1h-1zM397 384h1v1h-1zM443 366h1v1h-1zM443 365h1v1h-1zM444 366h1v1h-1zM443 367h1v1h-1zM442 366h1v1h-1zM378 386h1v1h-1zM378 385h1v1h-1zM379 386h1v1h-1zM378 387h1v1h-1zM377 386h1v1h-1zM377 389h1v1h-1zM377 388h1v1h-1zM378 389h1v1h-1zM377 390h1v1h-1zM376 389h1v1h-1zM381 390h1v1h-1zM381 389h1v1h-1zM380 390h1v1h-1zM385 389h1v1h-1zM385 388h1v1h-1zM386 389h1v1h-1zM384 389h1v1h-1zM397 389h1v1h-1zM397 388h1v1h-1zM397 390h1v1h-1zM396 389h1v1h-1zM398 386h1v1h-1zM398 385h1v1h-1zM399 386h1v1h-1zM398 387h1v1h-1zM397 386h1v1h-1zM399 387h1v1h-1zM399 386h1v1h-1zM400 387h1v1h-1zM398 387h1v1h-1zM398 383h1v1h-1zM399 383h1v1h-1zM398 384h1v1h-1zM401 385h1v1h-1zM401 384h1v1h-1zM402 385h1v1h-1zM400 385h1v1h-1zM407 382h1v1h-1zM407 381h1v1h-1zM408 382h1v1h-1zM407 383h1v1h-1zM406 382h1v1h-1zM408 380h1v1h-1zM408 379h1v1h-1zM409 380h1v1h-1zM408 381h1v1h-1zM407 380h1v1h-1zM404 388h1v1h-1zM404 389h1v1h-1zM403 388h1v1h-1zM381 381h1v1h-1zM381 380h1v1h-1zM381 382h1v1h-1zM380 381h1v1h-1zM422 381h1v1h-1zM422 380h1v1h-1zM423 381h1v1h-1zM422 382h1v1h-1zM421 381h1v1h-1zM389 406h1v1h-1zM389 405h1v1h-1zM390 406h1v1h-1zM389 407h1v1h-1zM388 406h1v1h-1zM377 414h1v1h-1zM378 414h1v1h-1zM377 415h1v1h-1zM376 414h1v1h-1zM376 417h1v1h-1zM376 416h1v1h-1zM377 417h1v1h-1zM376 418h1v1h-1zM375 417h1v1h-1zM406 398h1v1h-1zM406 397h1v1h-1zM407 398h1v1h-1zM406 399h1v1h-1zM405 398h1v1h-1zM404 402h1v1h-1zM404 401h1v1h-1zM405 402h1v1h-1zM404 403h1v1h-1zM428 400h1v1h-1zM428 399h1v1h-1zM429 400h1v1h-1zM428 401h1v1h-1zM429 404h1v1h-1zM429 403h1v1h-1zM430 404h1v1h-1zM428 404h1v1h-1zM429 396h1v1h-1zM429 395h1v1h-1zM430 396h1v1h-1zM429 397h1v1h-1zM428 396h1v1h-1zM458 376h1v1h-1zM458 375h1v1h-1zM459 376h1v1h-1zM458 377h1v1h-1zM457 376h1v1h-1zM461 376h1v1h-1zM461 375h1v1h-1zM462 376h1v1h-1zM461 377h1v1h-1zM460 376h1v1h-1zM428 376h1v1h-1zM428 375h1v1h-1zM428 377h1v1h-1zM427 376h1v1h-1zM432 375h1v1h-1zM432 374h1v1h-1zM433 375h1v1h-1zM432 376h1v1h-1zM431 375h1v1h-1zM430 393h1v1h-1zM431 393h1v1h-1zM430 394h1v1h-1zM456 399h1v1h-1zM456 398h1v1h-1zM457 399h1v1h-1zM455 399h1v1h-1zM450 402h1v1h-1zM451 402h1v1h-1zM450 403h1v1h-1zM433 403h1v1h-1zM434 403h1v1h-1zM433 404h1v1h-1zM404 402h1v1h-1zM404 401h1v1h-1zM404 403h1v1h-1zM403 402h1v1h-1zM443 408h1v1h-1zM443 407h1v1h-1zM444 408h1v1h-1zM443 409h1v1h-1zM449 401h1v1h-1zM449 400h1v1h-1zM449 402h1v1h-1zM448 401h1v1h-1zM401 445h1v1h-1zM401 444h1v1h-1zM402 445h1v1h-1zM401 446h1v1h-1zM410 447h1v1h-1zM410 446h1v1h-1zM411 447h1v1h-1zM410 448h1v1h-1zM413 446h1v1h-1zM413 445h1v1h-1zM413 447h1v1h-1zM412 446h1v1h-1zM416 445h1v1h-1zM416 444h1v1h-1zM417 445h1v1h-1zM415 445h1v1h-1zM417 442h1v1h-1zM417 441h1v1h-1zM418 442h1v1h-1zM417 443h1v1h-1zM416 442h1v1h-1zM418 448h1v1h-1zM419 448h1v1h-1zM418 449h1v1h-1zM417 448h1v1h-1zM424 445h1v1h-1zM424 444h1v1h-1zM425 445h1v1h-1zM424 446h1v1h-1zM423 445h1v1h-1zM427 445h1v1h-1zM427 444h1v1h-1zM427 446h1v1h-1zM426 445h1v1h-1zM432 445h1v1h-1zM433 445h1v1h-1zM432 446h1v1h-1zM431 445h1v1h-1zM435 447h1v1h-1zM435 446h1v1h-1zM436 447h1v1h-1zM435 448h1v1h-1zM434 447h1v1h-1zM438 445h1v1h-1zM438 444h1v1h-1zM439 445h1v1h-1zM438 446h1v1h-1zM437 445h1v1h-1zM443 445h1v1h-1zM444 445h1v1h-1zM443 446h1v1h-1zM442 445h1v1h-1zM445 446h1v1h-1zM445 447h1v1h-1zM444 446h1v1h-1zM447 445h1v1h-1zM447 444h1v1h-1zM448 445h1v1h-1zM446 445h1v1h-1zM450 447h1v1h-1zM450 446h1v1h-1zM451 447h1v1h-1zM450 448h1v1h-1zM449 447h1v1h-1zM367 434h1v1h-1zM367 433h1v1h-1zM368 434h1v1h-1zM366 434h1v1h-1zM374 430h1v1h-1zM374 429h1v1h-1zM375 430h1v1h-1zM374 431h1v1h-1zM373 430h1v1h-1zM378 428h1v1h-1zM378 427h1v1h-1zM379 428h1v1h-1zM378 429h1v1h-1zM374 434h1v1h-1zM374 435h1v1h-1zM373 434h1v1h-1zM373 436h1v1h-1zM373 437h1v1h-1zM372 436h1v1h-1zM374 438h1v1h-1zM374 437h1v1h-1zM375 438h1v1h-1zM374 439h1v1h-1zM374 441h1v1h-1zM374 440h1v1h-1zM375 441h1v1h-1zM374 442h1v1h-1zM373 441h1v1h-1zM378 442h1v1h-1zM379 442h1v1h-1zM378 443h1v1h-1zM377 442h1v1h-1zM380 439h1v1h-1zM380 438h1v1h-1zM381 439h1v1h-1zM383 440h1v1h-1zM383 439h1v1h-1zM383 441h1v1h-1zM382 440h1v1h-1zM385 442h1v1h-1zM386 442h1v1h-1zM385 443h1v1h-1zM384 442h1v1h-1zM382 444h1v1h-1zM382 443h1v1h-1zM383 444h1v1h-1zM382 445h1v1h-1zM380 443h1v1h-1zM380 444h1v1h-1zM379 443h1v1h-1zM378 443h1v1h-1zM378 442h1v1h-1zM379 443h1v1h-1zM378 444h1v1h-1zM377 443h1v1h-1zM387 444h1v1h-1zM387 443h1v1h-1zM387 445h1v1h-1zM386 444h1v1h-1zM389 443h1v1h-1zM389 442h1v1h-1zM390 443h1v1h-1zM389 444h1v1h-1zM388 443h1v1h-1zM387 446h1v1h-1zM387 445h1v1h-1zM388 446h1v1h-1zM387 447h1v1h-1zM386 446h1v1h-1zM385 431h1v1h-1zM385 430h1v1h-1zM385 432h1v1h-1zM384 431h1v1h-1zM391 437h1v1h-1zM392 437h1v1h-1zM391 438h1v1h-1zM390 437h1v1h-1zM391 441h1v1h-1zM391 440h1v1h-1zM392 441h1v1h-1zM391 442h1v1h-1zM394 431h1v1h-1zM394 430h1v1h-1zM395 431h1v1h-1zM394 432h1v1h-1zM393 431h1v1h-1zM395 427h1v1h-1zM395 426h1v1h-1zM396 427h1v1h-1zM395 428h1v1h-1zM394 427h1v1h-1zM398 431h1v1h-1zM398 430h1v1h-1zM399 431h1v1h-1zM398 432h1v1h-1zM397 431h1v1h-1zM400 432h1v1h-1zM400 431h1v1h-1zM401 432h1v1h-1zM400 433h1v1h-1zM399 432h1v1h-1zM401 434h1v1h-1zM402 434h1v1h-1zM401 435h1v1h-1zM400 434h1v1h-1zM392 446h1v1h-1zM392 445h1v1h-1zM393 446h1v1h-1zM392 447h1v1h-1zM391 446h1v1h-1zM395 445h1v1h-1zM396 445h1v1h-1zM395 446h1v1h-1zM394 445h1v1h-1zM396 447h1v1h-1zM396 446h1v1h-1zM397 447h1v1h-1zM396 448h1v1h-1zM395 447h1v1h-1zM397 446h1v1h-1zM397 445h1v1h-1zM398 446h1v1h-1zM397 447h1v1h-1zM399 445h1v1h-1zM399 444h1v1h-1zM400 445h1v1h-1zM399 446h1v1h-1zM398 445h1v1h-1zM400 447h1v1h-1zM400 446h1v1h-1zM401 447h1v1h-1zM402 444h1v1h-1zM402 443h1v1h-1zM403 444h1v1h-1zM451 349h1v1h-1zM452 349h1v1h-1zM451 350h1v1h-1zM442 406h1v1h-1zM442 405h1v1h-1zM443 406h1v1h-1zM441 406h1v1h-1zM448 407h1v1h-1zM448 406h1v1h-1zM448 408h1v1h-1zM447 407h1v1h-1zM453 407h1v1h-1zM453 406h1v1h-1zM454 407h1v1h-1zM453 408h1v1h-1zM478 396h1v1h-1zM478 395h1v1h-1zM479 396h1v1h-1zM478 397h1v1h-1zM477 396h1v1h-1zM481 394h1v1h-1zM482 394h1v1h-1zM481 395h1v1h-1zM485 397h1v1h-1zM485 396h1v1h-1zM486 397h1v1h-1zM485 398h1v1h-1zM484 397h1v1h-1zM496 394h1v1h-1zM496 393h1v1h-1zM497 394h1v1h-1zM499 396h1v1h-1zM499 395h1v1h-1zM500 396h1v1h-1zM498 396h1v1h-1zM477 405h1v1h-1zM477 404h1v1h-1zM478 405h1v1h-1zM476 405h1v1h-1zM477 444h1v1h-1zM478 444h1v1h-1zM477 445h1v1h-1zM476 444h1v1h-1zM480 444h1v1h-1zM480 443h1v1h-1zM479 444h1v1h-1zM483 444h1v1h-1zM483 443h1v1h-1zM484 444h1v1h-1zM483 445h1v1h-1zM482 444h1v1h-1zM489 445h1v1h-1zM489 444h1v1h-1zM490 445h1v1h-1zM488 445h1v1h-1zM492 444h1v1h-1zM492 443h1v1h-1zM493 444h1v1h-1zM492 445h1v1h-1zM491 444h1v1h-1zM494 439h1v1h-1zM494 438h1v1h-1zM495 439h1v1h-1zM494 440h1v1h-1zM493 439h1v1h-1zM496 443h1v1h-1zM496 442h1v1h-1zM497 443h1v1h-1zM496 444h1v1h-1zM495 443h1v1h-1zM498 446h1v1h-1zM499 446h1v1h-1zM498 447h1v1h-1zM497 446h1v1h-1zM500 444h1v1h-1zM500 443h1v1h-1zM501 444h1v1h-1zM500 445h1v1h-1zM499 444h1v1h-1zM539 442h1v1h-1zM540 442h1v1h-1zM539 443h1v1h-1zM424 125h1v1h-1zM424 124h1v1h-1zM425 125h1v1h-1zM423 125h1v1h-1zM430 131h1v1h-1zM430 130h1v1h-1zM431 131h1v1h-1zM430 132h1v1h-1zM429 131h1v1h-1zM432 140h1v1h-1zM433 140h1v1h-1zM432 141h1v1h-1zM397 147h1v1h-1zM397 146h1v1h-1zM398 147h1v1h-1zM397 148h1v1h-1zM396 147h1v1h-1zM400 156h1v1h-1zM400 155h1v1h-1zM401 156h1v1h-1zM399 156h1v1h-1zM400 167h1v1h-1zM400 166h1v1h-1zM400 168h1v1h-1zM399 167h1v1h-1zM397 179h1v1h-1zM397 178h1v1h-1zM398 179h1v1h-1zM397 180h1v1h-1zM396 179h1v1h-1zM392 185h1v1h-1zM392 184h1v1h-1zM393 185h1v1h-1zM392 186h1v1h-1zM391 185h1v1h-1zM404 187h1v1h-1zM404 186h1v1h-1zM405 187h1v1h-1zM404 188h1v1h-1zM399 188h1v1h-1zM399 187h1v1h-1zM400 188h1v1h-1zM399 189h1v1h-1zM398 188h1v1h-1zM389 188h1v1h-1zM390 188h1v1h-1zM389 189h1v1h-1zM386 190h1v1h-1zM386 189h1v1h-1zM386 191h1v1h-1zM385 190h1v1h-1zM378 192h1v1h-1zM378 191h1v1h-1zM379 192h1v1h-1zM377 192h1v1h-1zM381 194h1v1h-1zM381 193h1v1h-1zM382 194h1v1h-1zM381 195h1v1h-1zM380 194h1v1h-1zM385 196h1v1h-1zM386 196h1v1h-1zM385 197h1v1h-1zM384 196h1v1h-1zM382 226h1v1h-1zM382 225h1v1h-1zM382 227h1v1h-1zM381 226h1v1h-1zM422 275h1v1h-1zM422 274h1v1h-1zM423 275h1v1h-1zM421 275h1v1h-1zM442 273h1v1h-1zM442 272h1v1h-1zM443 273h1v1h-1zM442 274h1v1h-1zM441 273h1v1h-1zM450 279h1v1h-1zM451 279h1v1h-1zM450 280h1v1h-1zM449 279h1v1h-1zM454 277h1v1h-1zM454 276h1v1h-1zM455 277h1v1h-1zM453 277h1v1h-1zM401 302h1v1h-1zM401 301h1v1h-1zM402 302h1v1h-1zM401 303h1v1h-1zM400 302h1v1h-1zM400 304h1v1h-1zM400 303h1v1h-1zM399 304h1v1h-1zM408 303h1v1h-1zM408 302h1v1h-1zM409 303h1v1h-1zM408 304h1v1h-1zM407 303h1v1h-1zM422 304h1v1h-1zM422 305h1v1h-1zM421 304h1v1h-1zM430 305h1v1h-1zM430 304h1v1h-1zM431 305h1v1h-1zM430 306h1v1h-1zM429 305h1v1h-1zM440 304h1v1h-1zM440 305h1v1h-1zM439 304h1v1h-1zM456 305h1v1h-1zM456 304h1v1h-1zM457 305h1v1h-1zM456 306h1v1h-1zM455 309h1v1h-1zM455 308h1v1h-1zM454 309h1v1h-1zM496 273h1v1h-1zM496 272h1v1h-1zM497 273h1v1h-1zM496 274h1v1h-1zM495 273h1v1h-1zM521 276h1v1h-1zM521 275h1v1h-1zM521 277h1v1h-1zM520 276h1v1h-1zM489 305h1v1h-1zM490 305h1v1h-1zM489 306h1v1h-1zM488 305h1v1h-1zM500 304h1v1h-1zM500 303h1v1h-1zM501 304h1v1h-1zM500 305h1v1h-1zM530 305h1v1h-1zM530 304h1v1h-1zM531 305h1v1h-1zM529 305h1v1h-1zM602 109h1v1h-1zM602 108h1v1h-1zM602 110h1v1h-1zM601 109h1v1h-1zM386 445h1v1h-1zM386 444h1v1h-1zM385 445h1v1h-1zM388 447h1v1h-1zM388 446h1v1h-1zM389 447h1v1h-1zM388 448h1v1h-1zM387 447h1v1h-1zM391 445h1v1h-1zM391 444h1v1h-1zM391 446h1v1h-1zM390 445h1v1h-1zM391 448h1v1h-1zM391 447h1v1h-1zM392 448h1v1h-1zM390 448h1v1h-1zM393 445h1v1h-1zM393 444h1v1h-1zM394 445h1v1h-1zM393 446h1v1h-1zM392 445h1v1h-1zM394 444h1v1h-1zM394 443h1v1h-1zM393 444h1v1h-1zM394 445h1v1h-1zM394 446h1v1h-1zM393 445h1v1h-1zM397 447h1v1h-1zM397 446h1v1h-1zM398 447h1v1h-1zM397 448h1v1h-1zM396 447h1v1h-1zM398 445h1v1h-1zM398 444h1v1h-1zM399 445h1v1h-1zM397 445h1v1h-1zM403 446h1v1h-1zM403 445h1v1h-1zM404 446h1v1h-1zM402 446h1v1h-1zM405 448h1v1h-1zM405 447h1v1h-1zM406 448h1v1h-1zM404 448h1v1h-1zM406 446h1v1h-1zM407 446h1v1h-1zM406 447h1v1h-1zM410 447h1v1h-1zM410 448h1v1h-1zM409 447h1v1h-1zM411 446h1v1h-1zM411 445h1v1h-1zM412 446h1v1h-1zM410 446h1v1h-1zM413 447h1v1h-1zM413 446h1v1h-1zM412 447h1v1h-1zM414 448h1v1h-1zM414 447h1v1h-1zM415 448h1v1h-1zM414 449h1v1h-1zM419 447h1v1h-1zM419 446h1v1h-1zM420 447h1v1h-1zM419 448h1v1h-1zM419 445h1v1h-1zM419 444h1v1h-1zM419 446h1v1h-1zM418 445h1v1h-1zM420 446h1v1h-1zM421 446h1v1h-1zM420 447h1v1h-1zM419 446h1v1h-1zM422 448h1v1h-1zM422 447h1v1h-1zM423 448h1v1h-1zM421 448h1v1h-1zM423 448h1v1h-1zM423 447h1v1h-1zM424 448h1v1h-1zM423 449h1v1h-1zM425 446h1v1h-1zM425 445h1v1h-1zM426 446h1v1h-1zM425 447h1v1h-1zM424 446h1v1h-1zM427 447h1v1h-1zM427 446h1v1h-1zM428 447h1v1h-1zM427 448h1v1h-1zM426 447h1v1h-1zM428 445h1v1h-1zM429 445h1v1h-1zM428 446h1v1h-1zM427 445h1v1h-1zM428 444h1v1h-1zM428 443h1v1h-1zM429 444h1v1h-1zM428 445h1v1h-1zM427 444h1v1h-1zM430 447h1v1h-1zM431 447h1v1h-1zM430 448h1v1h-1zM431 444h1v1h-1zM431 443h1v1h-1zM432 444h1v1h-1zM431 445h1v1h-1zM430 444h1v1h-1zM432 445h1v1h-1zM433 445h1v1h-1zM432 446h1v1h-1zM431 445h1v1h-1zM435 445h1v1h-1zM436 445h1v1h-1zM435 446h1v1h-1zM434 445h1v1h-1zM436 445h1v1h-1zM436 444h1v1h-1zM436 446h1v1h-1zM435 445h1v1h-1zM436 445h1v1h-1zM436 444h1v1h-1zM437 445h1v1h-1zM436 446h1v1h-1zM435 445h1v1h-1zM438 447h1v1h-1zM438 446h1v1h-1zM439 447h1v1h-1zM438 448h1v1h-1zM437 447h1v1h-1zM438 445h1v1h-1zM438 444h1v1h-1zM439 445h1v1h-1zM438 446h1v1h-1zM437 445h1v1h-1zM441 447h1v1h-1zM441 446h1v1h-1zM442 447h1v1h-1zM440 447h1v1h-1zM449 444h1v1h-1zM449 443h1v1h-1zM450 444h1v1h-1zM449 445h1v1h-1zM448 444h1v1h-1zM450 447h1v1h-1zM450 446h1v1h-1zM451 447h1v1h-1zM450 448h1v1h-1zM449 447h1v1h-1zM454 444h1v1h-1zM455 444h1v1h-1zM454 445h1v1h-1zM453 444h1v1h-1zM172 463h1v1h-1zM172 462h1v1h-1zM173 463h1v1h-1zM172 464h1v1h-1zM171 463h1v1h-1zM179 459h1v1h-1zM179 458h1v1h-1zM180 459h1v1h-1zM183 460h1v1h-1zM183 459h1v1h-1zM184 460h1v1h-1zM183 461h1v1h-1zM182 460h1v1h-1zM188 460h1v1h-1zM188 459h1v1h-1zM188 461h1v1h-1zM187 460h1v1h-1zM188 462h1v1h-1zM189 462h1v1h-1zM188 463h1v1h-1zM190 468h1v1h-1zM190 467h1v1h-1zM190 469h1v1h-1zM189 468h1v1h-1zM196 467h1v1h-1zM196 468h1v1h-1zM195 467h1v1h-1zM197 464h1v1h-1zM197 463h1v1h-1zM198 464h1v1h-1zM197 465h1v1h-1zM196 464h1v1h-1zM209 466h1v1h-1zM209 465h1v1h-1zM210 466h1v1h-1zM209 467h1v1h-1zM208 466h1v1h-1zM211 460h1v1h-1zM211 459h1v1h-1zM212 460h1v1h-1zM211 461h1v1h-1zM219 457h1v1h-1zM219 456h1v1h-1zM220 457h1v1h-1zM219 458h1v1h-1zM218 457h1v1h-1zM217 455h1v1h-1zM217 454h1v1h-1zM218 455h1v1h-1zM217 456h1v1h-1zM216 455h1v1h-1zM222 460h1v1h-1zM222 459h1v1h-1zM223 460h1v1h-1zM222 461h1v1h-1zM221 460h1v1h-1zM224 463h1v1h-1zM224 462h1v1h-1zM225 463h1v1h-1zM223 463h1v1h-1zM221 457h1v1h-1zM221 456h1v1h-1zM220 457h1v1h-1zM228 462h1v1h-1zM228 461h1v1h-1zM229 462h1v1h-1zM228 463h1v1h-1zM227 462h1v1h-1zM230 469h1v1h-1zM230 468h1v1h-1zM231 469h1v1h-1zM230 470h1v1h-1zM229 469h1v1h-1zM233 469h1v1h-1zM233 468h1v1h-1zM234 469h1v1h-1zM233 470h1v1h-1zM236 466h1v1h-1zM236 465h1v1h-1zM237 466h1v1h-1zM236 467h1v1h-1zM235 466h1v1h-1zM240 463h1v1h-1zM240 462h1v1h-1zM240 464h1v1h-1zM239 463h1v1h-1zM242 460h1v1h-1zM243 460h1v1h-1zM242 461h1v1h-1zM241 460h1v1h-1zM242 469h1v1h-1zM243 469h1v1h-1zM242 470h1v1h-1zM241 469h1v1h-1zM244 469h1v1h-1zM244 470h1v1h-1zM243 469h1v1h-1zM249 463h1v1h-1zM249 462h1v1h-1zM250 463h1v1h-1zM249 464h1v1h-1zM248 463h1v1h-1zM253 457h1v1h-1zM253 456h1v1h-1zM254 457h1v1h-1zM252 457h1v1h-1zM252 463h1v1h-1zM252 462h1v1h-1zM253 463h1v1h-1zM251 463h1v1h-1zM255 462h1v1h-1zM255 461h1v1h-1zM256 462h1v1h-1zM255 463h1v1h-1zM254 462h1v1h-1zM256 470h1v1h-1zM256 469h1v1h-1zM257 470h1v1h-1zM255 470h1v1h-1zM264 473h1v1h-1zM264 472h1v1h-1zM265 473h1v1h-1zM265 472h1v1h-1zM265 471h1v1h-1zM266 472h1v1h-1zM265 473h1v1h-1zM264 472h1v1h-1zM269 472h1v1h-1zM269 471h1v1h-1zM270 472h1v1h-1zM280 472h1v1h-1zM280 471h1v1h-1zM280 473h1v1h-1zM279 472h1v1h-1zM281 470h1v1h-1zM281 469h1v1h-1zM282 470h1v1h-1zM281 471h1v1h-1zM280 470h1v1h-1zM275 472h1v1h-1zM275 471h1v1h-1zM276 472h1v1h-1zM275 473h1v1h-1zM274 472h1v1h-1zM277 474h1v1h-1zM277 473h1v1h-1zM278 474h1v1h-1zM277 475h1v1h-1zM276 474h1v1h-1zM274 451h1v1h-1zM274 450h1v1h-1zM274 452h1v1h-1zM273 451h1v1h-1zM274 453h1v1h-1zM275 453h1v1h-1zM274 454h1v1h-1zM273 453h1v1h-1zM283 469h1v1h-1zM283 468h1v1h-1zM284 469h1v1h-1zM283 470h1v1h-1zM282 469h1v1h-1zM307 467h1v1h-1zM307 466h1v1h-1zM308 467h1v1h-1zM307 468h1v1h-1zM313 469h1v1h-1zM314 469h1v1h-1zM313 470h1v1h-1zM312 469h1v1h-1zM336 467h1v1h-1zM336 466h1v1h-1zM337 467h1v1h-1zM336 468h1v1h-1zM335 467h1v1h-1zM343 470h1v1h-1zM343 469h1v1h-1zM344 470h1v1h-1zM342 470h1v1h-1zM282 448h1v1h-1zM282 449h1v1h-1zM281 448h1v1h-1zM294 443h1v1h-1zM294 442h1v1h-1zM295 443h1v1h-1zM294 444h1v1h-1zM293 443h1v1h-1zM321 446h1v1h-1zM321 445h1v1h-1zM322 446h1v1h-1zM321 447h1v1h-1zM320 446h1v1h-1zM324 443h1v1h-1zM324 442h1v1h-1zM325 443h1v1h-1zM324 444h1v1h-1zM323 443h1v1h-1zM334 445h1v1h-1zM334 444h1v1h-1zM335 445h1v1h-1zM334 446h1v1h-1zM333 445h1v1h-1zM336 440h1v1h-1zM336 439h1v1h-1zM337 440h1v1h-1zM336 441h1v1h-1zM335 440h1v1h-1zM309 419h1v1h-1zM309 418h1v1h-1zM310 419h1v1h-1zM309 420h1v1h-1zM308 419h1v1h-1zM315 419h1v1h-1zM315 418h1v1h-1zM316 419h1v1h-1zM315 420h1v1h-1zM314 419h1v1h-1zM321 440h1v1h-1zM321 439h1v1h-1zM322 440h1v1h-1zM320 440h1v1h-1zM310 438h1v1h-1zM310 437h1v1h-1zM311 438h1v1h-1zM310 439h1v1h-1zM309 438h1v1h-1zM311 441h1v1h-1zM311 440h1v1h-1zM312 441h1v1h-1zM311 442h1v1h-1zM310 441h1v1h-1zM322 444h1v1h-1zM322 443h1v1h-1zM323 444h1v1h-1zM321 444h1v1h-1zM338 435h1v1h-1zM338 434h1v1h-1zM339 435h1v1h-1zM338 436h1v1h-1zM337 435h1v1h-1zM340 437h1v1h-1zM340 436h1v1h-1zM341 437h1v1h-1zM339 437h1v1h-1zM334 421h1v1h-1zM334 420h1v1h-1zM334 422h1v1h-1zM333 421h1v1h-1zM332 426h1v1h-1zM332 425h1v1h-1zM333 426h1v1h-1zM331 426h1v1h-1zM340 410h1v1h-1zM340 409h1v1h-1zM341 410h1v1h-1zM340 411h1v1h-1zM337 414h1v1h-1zM337 413h1v1h-1zM337 415h1v1h-1zM336 414h1v1h-1zM349 385h1v1h-1zM350 385h1v1h-1zM349 386h1v1h-1zM358 391h1v1h-1zM358 390h1v1h-1zM359 391h1v1h-1zM358 392h1v1h-1zM356 390h1v1h-1zM356 389h1v1h-1zM357 390h1v1h-1zM356 391h1v1h-1zM355 391h1v1h-1zM355 390h1v1h-1zM356 391h1v1h-1zM354 391h1v1h-1zM366 389h1v1h-1zM366 388h1v1h-1zM367 389h1v1h-1zM366 390h1v1h-1zM365 389h1v1h-1zM358 395h1v1h-1zM358 394h1v1h-1zM359 395h1v1h-1zM357 395h1v1h-1zM339 398h1v1h-1zM339 397h1v1h-1zM340 398h1v1h-1zM338 398h1v1h-1zM359 397h1v1h-1zM359 396h1v1h-1zM360 397h1v1h-1zM359 398h1v1h-1zM351 401h1v1h-1zM351 400h1v1h-1zM352 401h1v1h-1zM351 402h1v1h-1zM350 401h1v1h-1zM341 403h1v1h-1zM341 402h1v1h-1zM342 403h1v1h-1zM341 404h1v1h-1zM340 403h1v1h-1zM341 408h1v1h-1zM341 407h1v1h-1zM342 408h1v1h-1zM340 408h1v1h-1zM339 414h1v1h-1zM339 413h1v1h-1zM340 414h1v1h-1zM339 415h1v1h-1zM342 416h1v1h-1zM342 415h1v1h-1zM343 416h1v1h-1zM342 417h1v1h-1zM341 416h1v1h-1zM344 419h1v1h-1zM344 418h1v1h-1zM344 420h1v1h-1zM343 419h1v1h-1zM342 422h1v1h-1zM342 421h1v1h-1zM343 422h1v1h-1zM342 423h1v1h-1zM341 422h1v1h-1zM332 426h1v1h-1zM332 425h1v1h-1zM333 426h1v1h-1zM332 427h1v1h-1zM331 426h1v1h-1zM341 423h1v1h-1zM341 422h1v1h-1zM342 423h1v1h-1zM340 423h1v1h-1zM355 408h1v1h-1zM356 408h1v1h-1zM355 409h1v1h-1zM354 408h1v1h-1zM352 411h1v1h-1zM353 411h1v1h-1zM352 412h1v1h-1zM345 432h1v1h-1zM345 431h1v1h-1zM345 433h1v1h-1zM344 432h1v1h-1zM339 438h1v1h-1zM339 437h1v1h-1zM340 438h1v1h-1zM338 438h1v1h-1zM340 440h1v1h-1zM340 439h1v1h-1zM340 441h1v1h-1zM339 440h1v1h-1zM335 445h1v1h-1zM335 444h1v1h-1zM335 446h1v1h-1zM334 445h1v1h-1zM339 441h1v1h-1zM339 440h1v1h-1zM340 441h1v1h-1zM339 442h1v1h-1zM338 441h1v1h-1zM362 441h1v1h-1zM362 440h1v1h-1zM363 441h1v1h-1zM362 442h1v1h-1zM361 441h1v1h-1z" fill="#0000ff"/>
<path d="M167 472h1v1h-1zM168 472h1v1h-1zM167 473h1v1h-1zM166 472h1v1h-1zM178 458h1v1h-1zM178 457h1v1h-1zM179 458h1v1h-1zM177 458h1v1h-1zM174 462h1v1h-1zM174 461h1v1h-1zM175 462h1v1h-1zM174 463h1v1h-1zM173 462h1v1h-1zM179 462h1v1h-1zM179 461h1v1h-1zM180 462h1v1h-1zM179 463h1v1h-1zM178 462h1v1h-1zM181 462h1v1h-1zM181 461h1v1h-1zM181 463h1v1h-1zM180 462h1v1h-1zM183 463h1v1h-1zM183 462h1v1h-1zM184 463h1v1h-1zM182 463h1v1h-1zM192 466h1v1h-1zM193 466h1v1h-1zM192 467h1v1h-1zM199 462h1v1h-1zM200 462h1v1h-1zM199 463h1v1h-1zM207 466h1v1h-1zM207 465h1v1h-1zM208 466h1v1h-1zM204 471h1v1h-1zM204 470h1v1h-1zM205 471h1v1h-1zM204 472h1v1h-1zM203 471h1v1h-1zM211 458h1v1h-1zM211 457h1v1h-1zM212 458h1v1h-1zM211 459h1v1h-1zM214 464h1v1h-1zM215 464h1v1h-1zM214 465h1v1h-1zM213 464h1v1h-1zM219 457h1v1h-1zM219 456h1v1h-1zM220 457h1v1h-1zM219 458h1v1h-1zM219 460h1v1h-1zM219 459h1v1h-1zM220 460h1v1h-1zM219 461h1v1h-1zM218 460h1v1h-1zM221 461h1v1h-1zM221 460h1v1h-1zM222 461h1v1h-1zM221 462h1v1h-1zM220 461h1v1h-1zM223 459h1v1h-1zM223 458h1v1h-1zM224 459h1v1h-1zM222 459h1v1h-1zM226 456h1v1h-1zM226 455h1v1h-1zM227 456h1v1h-1zM226 457h1v1h-1zM225 456h1v1h-1zM226 464h1v1h-1zM226 463h1v1h-1zM227 464h1v1h-1zM226 465h1v1h-1zM224 472h1v1h-1zM224 471h1v1h-1zM225 472h1v1h-1zM224 473h1v1h-1zM223 472h1v1h-1zM231 454h1v1h-1zM231 453h1v1h-1zM232 454h1v1h-1zM231 455h1v1h-1zM236 455h1v1h-1zM237 455h1v1h-1zM236 456h1v1h-1zM233 466h1v1h-1zM233 465h1v1h-1zM233 467h1v1h-1zM232 466h1v1h-1zM235 469h1v1h-1zM235 468h1v1h-1zM236 469h1v1h-1zM235 470h1v1h-1zM234 469h1v1h-1zM232 470h1v1h-1zM232 469h1v1h-1zM233 470h1v1h-1zM232 471h1v1h-1zM237 465h1v1h-1zM237 464h1v1h-1zM238 465h1v1h-1zM237 466h1v1h-1zM236 465h1v1h-1zM238 462h1v1h-1zM239 462h1v1h-1zM238 463h1v1h-1zM237 462h1v1h-1zM239 464h1v1h-1zM239 463h1v1h-1zM238 464h1v1h-1zM241 461h1v1h-1zM241 460h1v1h-1zM242 461h1v1h-1zM241 462h1v1h-1zM240 461h1v1h-1zM243 464h1v1h-1zM243 463h1v1h-1zM244 464h1v1h-1zM243 465h1v1h-1zM242 464h1v1h-1zM241 468h1v1h-1zM242 468h1v1h-1zM241 469h1v1h-1zM240 468h1v1h-1zM243 469h1v1h-1zM243 468h1v1h-1zM244 469h1v1h-1zM243 470h1v1h-1zM244 472h1v1h-1zM244 471h1v1h-1zM245 472h1v1h-1zM244 473h1v1h-1zM243 472h1v1h-1zM241 475h1v1h-1zM242 475h1v1h-1zM241 476h1v1h-1zM240 475h1v1h-1zM252 459h1v1h-1zM253 459h1v1h-1zM252 460h1v1h-1zM251 459h1v1h-1zM256 464h1v1h-1zM256 463h1v1h-1zM257 464h1v1h-1zM256 465h1v1h-1zM255 464h1v1h-1zM257 463h1v1h-1zM258 463h1v1h-1zM257 464h1v1h-1zM256 463h1v1h-1zM260 465h1v1h-1zM260 464h1v1h-1zM261 465h1v1h-1zM260 466h1v1h-1zM251 467h1v1h-1zM251 466h1v1h-1zM251 468h1v1h-1zM250 467h1v1h-1zM256 469h1v1h-1zM256 468h1v1h-1zM257 469h1v1h-1zM255 469h1v1h-1zM250 472h1v1h-1zM250 471h1v1h-1zM251 472h1v1h-1zM250 473h1v1h-1zM253 472h1v1h-1zM253 471h1v1h-1zM254 472h1v1h-1zM253 473h1v1h-1zM252 477h1v1h-1zM252 476h1v1h-1zM253 477h1v1h-1zM251 477h1v1h-1zM259 476h1v1h-1zM259 475h1v1h-1zM260 476h1v1h-1zM259 477h1v1h-1zM258 476h1v1h-1zM263 471h1v1h-1zM263 470h1v1h-1zM264 471h1v1h-1zM262 471h1v1h-1zM265 472h1v1h-1zM265 471h1v1h-1zM266 472h1v1h-1zM265 473h1v1h-1zM264 472h1v1h-1zM271 472h1v1h-1zM272 472h1v1h-1zM271 473h1v1h-1zM273 470h1v1h-1zM273 469h1v1h-1zM273 471h1v1h-1zM272 470h1v1h-1zM275 472h1v1h-1zM275 471h1v1h-1zM276 472h1v1h-1zM275 473h1v1h-1zM274 472h1v1h-1zM277 471h1v1h-1zM277 470h1v1h-1zM278 471h1v1h-1zM276 471h1v1h-1zM285 471h1v1h-1zM285 470h1v1h-1zM286 471h1v1h-1zM285 472h1v1h-1zM284 471h1v1h-1zM266 473h1v1h-1zM266 472h1v1h-1zM267 473h1v1h-1zM265 473h1v1h-1zM274 474h1v1h-1zM275 474h1v1h-1zM274 475h1v1h-1zM273 474h1v1h-1zM278 476h1v1h-1zM279 476h1v1h-1zM278 477h1v1h-1zM277 476h1v1h-1zM273 466h1v1h-1zM273 465h1v1h-1zM274 466h1v1h-1zM273 467h1v1h-1zM272 466h1v1h-1zM269 454h1v1h-1zM269 453h1v1h-1zM270 454h1v1h-1zM269 455h1v1h-1zM268 454h1v1h-1zM270 452h1v1h-1zM270 451h1v1h-1zM271 452h1v1h-1zM270 453h1v1h-1zM269 452h1v1h-1zM271 449h1v1h-1zM272 449h1v1h-1zM271 450h1v1h-1zM274 449h1v1h-1zM274 448h1v1h-1zM275 449h1v1h-1zM274 450h1v1h-1zM276 449h1v1h-1zM276 448h1v1h-1zM277 449h1v1h-1zM276 450h1v1h-1zM277 448h1v1h-1zM278 448h1v1h-1zM277 449h1v1h-1zM276 448h1v1h-1zM283 445h1v1h-1zM284 445h1v1h-1zM283 446h1v1h-1zM282 445h1v1h-1zM284 447h1v1h-1zM284 446h1v1h-1zM285 447h1v1h-1zM284 448h1v1h-1zM283 447h1v1h-1zM278 450h1v1h-1zM278 449h1v1h-1zM279 450h1v1h-1zM278 451h1v1h-1zM277 450h1v1h-1zM277 453h1v1h-1zM277 452h1v1h-1zM278 453h1v1h-1zM277 454h1v1h-1zM276 453h1v1h-1zM284 465h1v1h-1zM284 464h1v1h-1zM285 465h1v1h-1zM284 466h1v1h-1zM283 465h1v1h-1zM294 468h1v1h-1zM295 468h1v1h-1zM294 469h1v1h-1zM293 468h1v1h-1zM292 479h1v1h-1zM292 478h1v1h-1zM293 479h1v1h-1zM292 480h1v1h-1zM171 464h1v1h-1zM171 463h1v1h-1zM172 464h1v1h-1zM171 465h1v1h-1zM170 464h1v1h-1zM174 462h1v1h-1zM174 461h1v1h-1zM175 462h1v1h-1zM174 463h1v1h-1zM174 458h1v1h-1zM175 458h1v1h-1zM174 459h1v1h-1zM173 458h1v1h-1zM176 460h1v1h-1zM176 459h1v1h-1zM176 461h1v1h-1zM175 460h1v1h-1zM181 462h1v1h-1zM181 461h1v1h-1zM181 463h1v1h-1zM180 462h1v1h-1zM201 464h1v1h-1zM201 463h1v1h-1zM202 464h1v1h-1zM212 464h1v1h-1zM212 463h1v1h-1zM213 464h1v1h-1zM212 465h1v1h-1zM211 464h1v1h-1zM213 463h1v1h-1zM213 462h1v1h-1zM214 463h1v1h-1zM213 469h1v1h-1zM213 468h1v1h-1zM212 469h1v1h-1zM221 459h1v1h-1zM221 458h1v1h-1zM221 460h1v1h-1zM220 459h1v1h-1zM227 458h1v1h-1zM227 457h1v1h-1zM228 458h1v1h-1zM227 459h1v1h-1zM226 458h1v1h-1zM226 474h1v1h-1zM226 473h1v1h-1zM227 474h1v1h-1zM226 475h1v1h-1zM231 461h1v1h-1zM231 460h1v1h-1zM232 461h1v1h-1zM230 461h1v1h-1zM232 467h1v1h-1zM232 466h1v1h-1zM233 467h1v1h-1zM231 467h1v1h-1zM232 467h1v1h-1zM231 468h1v1h-1zM230 467h1v1h-1zM245 466h1v1h-1zM245 465h1v1h-1zM245 467h1v1h-1zM244 466h1v1h-1zM244 470h1v1h-1zM244 469h1v1h-1zM245 470h1v1h-1zM244 471h1v1h-1zM243 470h1v1h-1zM242 471h1v1h-1zM242 470h1v1h-1zM243 471h1v1h-1zM242 472h1v1h-1zM241 471h1v1h-1zM238 468h1v1h-1zM239 468h1v1h-1zM238 469h1v1h-1zM237 468h1v1h-1zM249 459h1v1h-1zM250 459h1v1h-1zM249 460h1v1h-1zM248 459h1v1h-1zM253 459h1v1h-1zM253 458h1v1h-1zM254 459h1v1h-1zM253 460h1v1h-1zM252 459h1v1h-1zM255 464h1v1h-1zM255 463h1v1h-1zM256 464h1v1h-1zM255 465h1v1h-1zM254 464h1v1h-1zM251 473h1v1h-1zM251 472h1v1h-1zM252 473h1v1h-1zM254 473h1v1h-1zM255 473h1v1h-1zM254 474h1v1h-1zM253 473h1v1h-1zM258 472h1v1h-1zM258 471h1v1h-1zM259 472h1v1h-1zM257 472h1v1h-1zM263 470h1v1h-1zM264 470h1v1h-1zM263 471h1v1h-1zM268 473h1v1h-1zM268 472h1v1h-1zM269 473h1v1h-1zM268 474h1v1h-1zM267 473h1v1h-1zM271 468h1v1h-1zM271 467h1v1h-1zM272 468h1v1h-1zM274 474h1v1h-1zM274 473h1v1h-1zM275 474h1v1h-1zM274 475h1v1h-1zM279 470h1v1h-1zM279 469h1v1h-1zM280 470h1v1h-1zM279 471h1v1h-1zM278 470h1v1h-1zM282 471h1v1h-1zM282 470h1v1h-1zM283 471h1v1h-1zM282 472h1v1h-1zM281 471h1v1h-1zM287 472h1v1h-1zM287 471h1v1h-1zM286 472h1v1h-1zM269 448h1v1h-1zM269 447h1v1h-1zM270 448h1v1h-1zM269 449h1v1h-1zM268 448h1v1h-1zM275 448h1v1h-1zM275 447h1v1h-1zM276 448h1v1h-1zM275 449h1v1h-1zM274 448h1v1h-1zM278 446h1v1h-1zM278 445h1v1h-1zM279 446h1v1h-1zM278 447h1v1h-1zM277 446h1v1h-1zM280 449h1v1h-1zM280 448h1v1h-1zM281 449h1v1h-1zM280 450h1v1h-1zM279 449h1v1h-1zM282 445h1v1h-1zM282 444h1v1h-1zM283 445h1v1h-1zM282 446h1v1h-1zM281 445h1v1h-1zM284 444h1v1h-1zM284 443h1v1h-1zM285 444h1v1h-1zM284 445h1v1h-1zM283 444h1v1h-1zM285 446h1v1h-1zM286 446h1v1h-1zM285 447h1v1h-1zM280 449h1v1h-1zM280 448h1v1h-1zM281 449h1v1h-1zM280 450h1v1h-1zM279 449h1v1h-1zM275 452h1v1h-1zM275 451h1v1h-1zM275 453h1v1h-1zM274 452h1v1h-1zM275 451h1v1h-1zM275 450h1v1h-1zM276 451h1v1h-1zM275 452h1v1h-1zM281 444h1v1h-1zM281 443h1v1h-1zM282 444h1v1h-1zM281 445h1v1h-1zM280 444h1v1h-1zM283 468h1v1h-1zM283 467h1v1h-1zM282 468h1v1h-1zM285 468h1v1h-1zM286 468h1v1h-1zM285 469h1v1h-1zM284 468h1v1h-1zM288 476h1v1h-1zM288 475h1v1h-1zM289 476h1v1h-1zM288 477h1v1h-1zM292 469h1v1h-1zM292 468h1v1h-1zM292 470h1v1h-1zM291 469h1v1h-1zM281 444h1v1h-1zM281 443h1v1h-1zM282 444h1v1h-1zM281 445h1v1h-1zM286 449h1v1h-1zM286 448h1v1h-1zM287 449h1v1h-1zM286 450h1v1h-1zM285 449h1v1h-1zM295 451h1v1h-1zM295 450h1v1h-1zM296 451h1v1h-1zM294 451h1v1h-1zM280 443h1v1h-1zM280 442h1v1h-1zM281 443h1v1h-1zM279 443h1v1h-1z" fill="#0040ff"/>
<path d="M170 465h1v1h-1zM170 464h1v1h-1zM171 465h1v1h-1zM170 466h1v1h-1zM169 465h1v1h-1zM173 457h1v1h-1zM174 457h1v1h-1zM173 458h1v1h-1zM172 457h1v1h-1zM177 461h1v1h-1zM177 460h1v1h-1zM178 461h1v1h-1zM177 462h1v1h-1zM176 461h1v1h-1zM195 465h1v1h-1zM195 464h1v1h-1zM196 465h1v1h-1zM195 466h1v1h-1zM194 465h1v1h-1zM210 462h1v1h-1zM210 461h1v1h-1zM211 462h1v1h-1zM210 463h1v1h-1zM209 462h1v1h-1zM226 473h1v1h-1zM226 472h1v1h-1zM227 473h1v1h-1zM226 474h1v1h-1zM225 473h1v1h-1zM229 461h1v1h-1zM229 460h1v1h-1zM230 461h1v1h-1zM228 461h1v1h-1zM230 476h1v1h-1zM230 475h1v1h-1zM230 477h1v1h-1zM229 476h1v1h-1zM240 457h1v1h-1zM240 456h1v1h-1zM241 457h1v1h-1zM231 468h1v1h-1zM231 467h1v1h-1zM231 469h1v1h-1zM230 468h1v1h-1zM250 459h1v1h-1zM250 460h1v1h-1zM249 459h1v1h-1zM254 469h1v1h-1zM254 468h1v1h-1zM254 470h1v1h-1zM253 469h1v1h-1zM262 469h1v1h-1zM262 468h1v1h-1zM262 470h1v1h-1zM261 469h1v1h-1zM269 471h1v1h-1zM269 470h1v1h-1zM270 471h1v1h-1zM269 472h1v1h-1zM268 471h1v1h-1zM275 451h1v1h-1zM275 450h1v1h-1zM276 451h1v1h-1zM275 452h1v1h-1zM274 451h1v1h-1zM282 445h1v1h-1zM283 445h1v1h-1zM282 446h1v1h-1zM281 445h1v1h-1zM178 460h1v1h-1zM178 459h1v1h-1zM179 460h1v1h-1zM178 461h1v1h-1zM177 460h1v1h-1zM183 466h1v1h-1zM183 467h1v1h-1zM182 466h1v1h-1zM198 460h1v1h-1zM198 459h1v1h-1zM198 461h1v1h-1zM197 460h1v1h-1zM209 466h1v1h-1zM210 466h1v1h-1zM209 467h1v1h-1zM208 466h1v1h-1zM224 473h1v1h-1zM224 472h1v1h-1zM225 473h1v1h-1zM224 474h1v1h-1zM223 473h1v1h-1zM238 460h1v1h-1zM238 459h1v1h-1zM239 460h1v1h-1zM237 460h1v1h-1zM233 468h1v1h-1zM233 467h1v1h-1zM234 468h1v1h-1zM232 468h1v1h-1zM241 465h1v1h-1zM241 464h1v1h-1zM242 465h1v1h-1zM241 466h1v1h-1zM240 465h1v1h-1zM236 469h1v1h-1zM236 468h1v1h-1zM237 469h1v1h-1zM236 470h1v1h-1zM235 469h1v1h-1zM258 470h1v1h-1zM258 469h1v1h-1zM259 470h1v1h-1zM258 471h1v1h-1zM257 470h1v1h-1zM261 467h1v1h-1zM261 466h1v1h-1zM260 467h1v1h-1zM268 474h1v1h-1zM268 473h1v1h-1zM269 474h1v1h-1zM267 474h1v1h-1zM272 451h1v1h-1zM272 450h1v1h-1zM272 452h1v1h-1zM271 451h1v1h-1zM282 470h1v1h-1zM282 469h1v1h-1zM283 470h1v1h-1zM282 471h1v1h-1zM281 470h1v1h-1zM293 448h1v1h-1zM293 447h1v1h-1zM294 448h1v1h-1zM293 449h1v1h-1zM292 448h1v1h-1z" fill="#0068ff"/>
<path d="M174 465h1v1h-1zM174 466h1v1h-1zM173 465h1v1h-1zM193 462h1v1h-1zM193 461h1v1h-1zM194 462h1v1h-1zM193 463h1v1h-1zM192 462h1v1h-1zM196 464h1v1h-1zM196 463h1v1h-1zM197 464h1v1h-1zM196 465h1v1h-1zM195 464h1v1h-1zM206 465h1v1h-1zM207 465h1v1h-1zM206 466h1v1h-1zM205 465h1v1h-1zM217 465h1v1h-1zM217 464h1v1h-1zM217 466h1v1h-1zM216 465h1v1h-1zM225 457h1v1h-1zM225 456h1v1h-1zM226 457h1v1h-1zM225 458h1v1h-1zM224 457h1v1h-1zM225 460h1v1h-1zM225 459h1v1h-1zM226 460h1v1h-1zM224 460h1v1h-1zM236 450h1v1h-1zM236 449h1v1h-1zM237 450h1v1h-1zM236 451h1v1h-1zM235 450h1v1h-1zM236 461h1v1h-1zM236 460h1v1h-1zM237 461h1v1h-1zM284 453h1v1h-1zM285 453h1v1h-1zM284 454h1v1h-1zM289 469h1v1h-1zM290 469h1v1h-1zM289 470h1v1h-1zM290 471h1v1h-1zM290 470h1v1h-1zM291 471h1v1h-1zM290 472h1v1h-1zM289 471h1v1h-1zM301 470h1v1h-1zM301 469h1v1h-1zM302 470h1v1h-1zM301 471h1v1h-1zM300 470h1v1h-1zM289 451h1v1h-1zM289 450h1v1h-1zM290 451h1v1h-1zM288 451h1v1h-1zM293 452h1v1h-1zM293 451h1v1h-1zM294 452h1v1h-1zM292 452h1v1h-1zM289 444h1v1h-1zM289 443h1v1h-1zM290 444h1v1h-1zM289 445h1v1h-1zM288 444h1v1h-1zM294 445h1v1h-1zM294 444h1v1h-1zM295 445h1v1h-1zM294 446h1v1h-1zM301 448h1v1h-1zM301 447h1v1h-1zM302 448h1v1h-1zM300 448h1v1h-1zM301 440h1v1h-1zM301 439h1v1h-1zM302 440h1v1h-1zM301 441h1v1h-1zM300 440h1v1h-1zM292 440h1v1h-1zM292 439h1v1h-1zM293 440h1v1h-1zM292 441h1v1h-1zM291 440h1v1h-1zM294 443h1v1h-1zM294 442h1v1h-1zM295 443h1v1h-1zM294 444h1v1h-1zM290 443h1v1h-1zM290 442h1v1h-1zM290 444h1v1h-1zM289 443h1v1h-1zM352 392h1v1h-1zM352 391h1v1h-1zM351 392h1v1h-1zM351 398h1v1h-1zM351 397h1v1h-1zM352 398h1v1h-1zM351 399h1v1h-1zM350 398h1v1h-1zM355 400h1v1h-1zM355 399h1v1h-1zM355 401h1v1h-1zM354 400h1v1h-1zM363 397h1v1h-1zM363 396h1v1h-1zM364 397h1v1h-1zM388 389h1v1h-1zM388 388h1v1h-1zM387 389h1v1h-1zM385 396h1v1h-1zM385 395h1v1h-1zM386 396h1v1h-1zM384 396h1v1h-1zM345 419h1v1h-1zM345 420h1v1h-1zM344 419h1v1h-1zM369 419h1v1h-1zM369 418h1v1h-1zM369 420h1v1h-1zM368 419h1v1h-1zM365 420h1v1h-1zM365 419h1v1h-1zM366 420h1v1h-1zM365 421h1v1h-1zM364 420h1v1h-1zM357 424h1v1h-1zM357 425h1v1h-1zM356 424h1v1h-1zM333 434h1v1h-1zM333 433h1v1h-1zM334 434h1v1h-1zM333 435h1v1h-1zM332 434h1v1h-1zM370 427h1v1h-1zM371 427h1v1h-1zM370 428h1v1h-1zM378 429h1v1h-1zM379 429h1v1h-1zM378 430h1v1h-1zM377 429h1v1h-1zM362 438h1v1h-1zM362 437h1v1h-1zM363 438h1v1h-1zM362 439h1v1h-1zM361 438h1v1h-1zM362 443h1v1h-1zM362 442h1v1h-1zM363 443h1v1h-1zM362 444h1v1h-1zM361 443h1v1h-1zM377 414h1v1h-1zM377 413h1v1h-1zM378 414h1v1h-1zM377 415h1v1h-1zM376 414h1v1h-1zM376 418h1v1h-1zM376 419h1v1h-1zM375 418h1v1h-1zM388 434h1v1h-1zM388 433h1v1h-1zM389 434h1v1h-1zM387 434h1v1h-1zM399 346h1v1h-1zM399 345h1v1h-1zM400 346h1v1h-1zM399 347h1v1h-1zM398 346h1v1h-1zM398 373h1v1h-1zM398 372h1v1h-1zM399 373h1v1h-1zM398 374h1v1h-1zM397 373h1v1h-1zM424 366h1v1h-1zM425 366h1v1h-1zM424 367h1v1h-1zM423 366h1v1h-1zM426 377h1v1h-1zM426 376h1v1h-1zM426 378h1v1h-1zM425 377h1v1h-1zM404 383h1v1h-1zM404 382h1v1h-1zM405 383h1v1h-1zM404 384h1v1h-1zM403 383h1v1h-1zM387 387h1v1h-1zM387 386h1v1h-1zM387 388h1v1h-1zM386 387h1v1h-1zM403 383h1v1h-1zM404 383h1v1h-1zM403 384h1v1h-1zM402 383h1v1h-1zM405 383h1v1h-1zM405 382h1v1h-1zM406 383h1v1h-1zM405 384h1v1h-1zM424 398h1v1h-1zM424 397h1v1h-1zM424 399h1v1h-1zM423 398h1v1h-1zM426 376h1v1h-1zM427 376h1v1h-1zM426 377h1v1h-1zM425 376h1v1h-1zM434 387h1v1h-1zM434 386h1v1h-1zM435 387h1v1h-1zM443 395h1v1h-1zM443 394h1v1h-1zM444 395h1v1h-1zM443 396h1v1h-1zM442 395h1v1h-1zM453 398h1v1h-1zM453 397h1v1h-1zM454 398h1v1h-1zM453 399h1v1h-1zM452 398h1v1h-1zM456 402h1v1h-1zM456 401h1v1h-1zM455 402h1v1h-1zM428 400h1v1h-1zM428 399h1v1h-1zM428 401h1v1h-1zM427 400h1v1h-1zM441 405h1v1h-1zM442 405h1v1h-1zM441 406h1v1h-1zM440 405h1v1h-1zM460 441h1v1h-1zM460 440h1v1h-1zM461 441h1v1h-1zM460 442h1v1h-1zM459 441h1v1h-1zM435 406h1v1h-1zM435 405h1v1h-1zM436 406h1v1h-1zM435 407h1v1h-1zM434 406h1v1h-1zM440 405h1v1h-1zM441 405h1v1h-1zM440 406h1v1h-1zM439 405h1v1h-1zM461 448h1v1h-1zM461 447h1v1h-1zM462 448h1v1h-1zM460 448h1v1h-1zM370 427h1v1h-1zM370 428h1v1h-1zM369 427h1v1h-1zM382 436h1v1h-1zM383 436h1v1h-1zM382 437h1v1h-1zM381 436h1v1h-1zM390 445h1v1h-1zM390 444h1v1h-1zM391 445h1v1h-1zM390 446h1v1h-1zM389 445h1v1h-1zM384 429h1v1h-1zM384 428h1v1h-1zM385 429h1v1h-1zM384 430h1v1h-1zM388 434h1v1h-1zM388 433h1v1h-1zM389 434h1v1h-1zM388 435h1v1h-1zM387 434h1v1h-1zM393 449h1v1h-1zM393 448h1v1h-1zM394 449h1v1h-1zM392 449h1v1h-1zM477 443h1v1h-1zM477 444h1v1h-1zM476 443h1v1h-1zM485 440h1v1h-1zM485 441h1v1h-1zM484 440h1v1h-1zM488 444h1v1h-1zM488 443h1v1h-1zM489 444h1v1h-1zM488 445h1v1h-1zM487 444h1v1h-1zM503 446h1v1h-1zM503 445h1v1h-1zM504 446h1v1h-1zM503 447h1v1h-1zM502 446h1v1h-1zM495 453h1v1h-1zM496 453h1v1h-1zM495 454h1v1h-1zM494 453h1v1h-1zM499 460h1v1h-1zM499 461h1v1h-1zM498 460h1v1h-1zM523 436h1v1h-1zM523 435h1v1h-1zM524 436h1v1h-1zM523 437h1v1h-1zM521 439h1v1h-1zM521 438h1v1h-1zM522 439h1v1h-1zM521 440h1v1h-1zM520 439h1v1h-1zM528 443h1v1h-1zM528 442h1v1h-1zM527 443h1v1h-1zM404 133h1v1h-1zM404 132h1v1h-1zM405 133h1v1h-1zM404 134h1v1h-1zM403 133h1v1h-1zM410 135h1v1h-1zM410 136h1v1h-1zM409 135h1v1h-1zM410 140h1v1h-1zM410 139h1v1h-1zM410 141h1v1h-1zM409 140h1v1h-1zM402 144h1v1h-1zM402 143h1v1h-1zM403 144h1v1h-1zM401 144h1v1h-1zM406 146h1v1h-1zM407 146h1v1h-1zM406 147h1v1h-1zM382 180h1v1h-1zM382 179h1v1h-1zM383 180h1v1h-1zM381 180h1v1h-1zM382 185h1v1h-1zM383 185h1v1h-1zM382 186h1v1h-1zM398 184h1v1h-1zM398 183h1v1h-1zM398 185h1v1h-1zM397 184h1v1h-1zM392 189h1v1h-1zM392 188h1v1h-1zM392 190h1v1h-1zM391 189h1v1h-1zM426 124h1v1h-1zM426 123h1v1h-1zM427 124h1v1h-1zM426 125h1v1h-1zM425 124h1v1h-1zM455 274h1v1h-1zM455 273h1v1h-1zM456 274h1v1h-1zM455 275h1v1h-1zM398 302h1v1h-1zM399 302h1v1h-1zM398 303h1v1h-1zM397 302h1v1h-1zM444 306h1v1h-1zM444 305h1v1h-1zM445 306h1v1h-1zM444 307h1v1h-1zM443 306h1v1h-1zM500 272h1v1h-1zM500 273h1v1h-1zM499 272h1v1h-1zM506 273h1v1h-1zM506 272h1v1h-1zM506 274h1v1h-1zM505 273h1v1h-1zM555 274h1v1h-1zM555 273h1v1h-1zM555 275h1v1h-1zM554 274h1v1h-1zM491 308h1v1h-1zM491 307h1v1h-1zM490 308h1v1h-1zM503 302h1v1h-1zM503 301h1v1h-1zM504 302h1v1h-1zM503 303h1v1h-1zM502 302h1v1h-1zM536 301h1v1h-1zM536 300h1v1h-1zM537 301h1v1h-1zM536 302h1v1h-1zM539 300h1v1h-1zM540 300h1v1h-1zM539 301h1v1h-1zM538 300h1v1h-1zM536 304h1v1h-1zM537 304h1v1h-1zM536 305h1v1h-1zM535 304h1v1h-1zM596 223h1v1h-1zM596 222h1v1h-1zM597 223h1v1h-1zM595 223h1v1h-1zM363 491h1v1h-1zM363 490h1v1h-1zM363 492h1v1h-1zM362 491h1v1h-1zM172 467h1v1h-1zM172 466h1v1h-1zM173 467h1v1h-1zM172 468h1v1h-1zM195 461h1v1h-1zM195 460h1v1h-1zM196 461h1v1h-1zM195 462h1v1h-1zM194 461h1v1h-1zM195 462h1v1h-1zM195 461h1v1h-1zM195 463h1v1h-1zM194 462h1v1h-1zM205 466h1v1h-1zM205 465h1v1h-1zM206 466h1v1h-1zM204 466h1v1h-1zM219 465h1v1h-1zM220 465h1v1h-1zM219 466h1v1h-1zM218 465h1v1h-1zM226 457h1v1h-1zM226 456h1v1h-1zM227 457h1v1h-1zM226 458h1v1h-1zM227 462h1v1h-1zM227 461h1v1h-1zM228 462h1v1h-1zM227 463h1v1h-1zM226 462h1v1h-1zM234 460h1v1h-1zM234 459h1v1h-1zM235 460h1v1h-1zM233 460h1v1h-1zM285 454h1v1h-1zM285 453h1v1h-1zM286 454h1v1h-1zM285 455h1v1h-1zM284 454h1v1h-1zM291 468h1v1h-1zM291 467h1v1h-1zM292 468h1v1h-1zM291 469h1v1h-1zM291 470h1v1h-1zM291 469h1v1h-1zM292 470h1v1h-1zM291 471h1v1h-1zM290 470h1v1h-1zM288 453h1v1h-1zM289 453h1v1h-1zM288 454h1v1h-1zM287 453h1v1h-1zM295 451h1v1h-1zM295 450h1v1h-1zM296 451h1v1h-1zM295 452h1v1h-1zM294 451h1v1h-1zM287 444h1v1h-1zM287 443h1v1h-1zM287 445h1v1h-1zM286 444h1v1h-1zM296 447h1v1h-1zM297 447h1v1h-1zM296 448h1v1h-1zM295 447h1v1h-1zM300 441h1v1h-1zM300 442h1v1h-1zM299 441h1v1h-1zM291 441h1v1h-1zM292 441h1v1h-1zM291 442h1v1h-1zM292 444h1v1h-1zM293 444h1v1h-1zM292 445h1v1h-1zM292 443h1v1h-1zM292 442h1v1h-1zM293 443h1v1h-1zM292 444h1v1h-1zM351 394h1v1h-1zM351 393h1v1h-1zM352 394h1v1h-1zM350 394h1v1h-1zM357 398h1v1h-1zM357 397h1v1h-1zM358 398h1v1h-1zM357 399h1v1h-1zM364 399h1v1h-1zM364 398h1v1h-1zM365 399h1v1h-1zM364 400h1v1h-1zM344 418h1v1h-1zM344 417h1v1h-1zM345 418h1v1h-1zM344 419h1v1h-1zM366 422h1v1h-1zM366 421h1v1h-1zM367 422h1v1h-1zM366 423h1v1h-1zM331 434h1v1h-1zM332 434h1v1h-1zM331 435h1v1h-1zM360 440h1v1h-1zM360 439h1v1h-1zM360 441h1v1h-1zM359 440h1v1h-1z" fill="#0060ff"/>
<path d="M292 474h1v1h-1zM293 474h1v1h-1zM292 475h1v1h-1zM291 474h1v1h-1zM312 470h1v1h-1zM312 469h1v1h-1zM312 471h1v1h-1zM311 470h1v1h-1zM324 474h1v1h-1zM324 473h1v1h-1zM325 474h1v1h-1zM324 475h1v1h-1zM323 474h1v1h-1zM345 466h1v1h-1zM345 465h1v1h-1zM346 466h1v1h-1zM345 467h1v1h-1zM344 466h1v1h-1zM284 453h1v1h-1zM285 453h1v1h-1zM284 454h1v1h-1zM283 453h1v1h-1zM296 454h1v1h-1zM297 454h1v1h-1zM296 455h1v1h-1zM295 454h1v1h-1zM298 444h1v1h-1zM299 444h1v1h-1zM298 445h1v1h-1zM297 444h1v1h-1zM317 441h1v1h-1zM317 442h1v1h-1zM316 441h1v1h-1zM300 436h1v1h-1zM301 436h1v1h-1zM300 437h1v1h-1zM299 436h1v1h-1zM299 442h1v1h-1zM299 441h1v1h-1zM300 442h1v1h-1zM299 443h1v1h-1zM298 442h1v1h-1zM387 388h1v1h-1zM387 387h1v1h-1zM388 388h1v1h-1zM386 388h1v1h-1zM362 410h1v1h-1zM362 409h1v1h-1zM363 410h1v1h-1zM362 411h1v1h-1zM361 410h1v1h-1zM398 435h1v1h-1zM398 434h1v1h-1zM399 435h1v1h-1zM398 436h1v1h-1zM397 435h1v1h-1zM485 403h1v1h-1zM485 402h1v1h-1zM485 404h1v1h-1zM484 403h1v1h-1zM478 446h1v1h-1zM479 446h1v1h-1zM478 447h1v1h-1zM487 447h1v1h-1zM488 447h1v1h-1zM487 448h1v1h-1zM486 447h1v1h-1zM524 442h1v1h-1zM524 441h1v1h-1zM523 442h1v1h-1zM418 141h1v1h-1zM418 140h1v1h-1zM419 141h1v1h-1zM418 142h1v1h-1zM430 143h1v1h-1zM430 142h1v1h-1zM431 143h1v1h-1zM430 144h1v1h-1zM429 143h1v1h-1zM388 145h1v1h-1zM388 144h1v1h-1zM389 145h1v1h-1zM388 146h1v1h-1zM378 195h1v1h-1zM378 194h1v1h-1zM378 196h1v1h-1zM377 195h1v1h-1zM496 295h1v1h-1zM496 294h1v1h-1zM497 295h1v1h-1zM496 296h1v1h-1zM495 295h1v1h-1zM593 217h1v1h-1zM593 216h1v1h-1zM594 217h1v1h-1zM593 218h1v1h-1zM652 234h1v1h-1zM652 235h1v1h-1zM651 234h1v1h-1zM592 304h1v1h-1zM592 303h1v1h-1zM593 304h1v1h-1zM667 321h1v1h-1zM667 320h1v1h-1zM668 321h1v1h-1zM667 322h1v1h-1zM666 321h1v1h-1zM323 482h1v1h-1zM323 481h1v1h-1zM324 482h1v1h-1zM323 483h1v1h-1z" fill="#00e0ff"/>
<path d="M296 470h1v1h-1zM297 470h1v1h-1zM296 471h1v1h-1zM295 470h1v1h-1zM310 462h1v1h-1zM310 461h1v1h-1zM311 462h1v1h-1zM312 465h1v1h-1zM312 464h1v1h-1zM313 465h1v1h-1zM312 466h1v1h-1zM314 468h1v1h-1zM314 467h1v1h-1zM314 469h1v1h-1zM313 468h1v1h-1zM317 470h1v1h-1zM317 469h1v1h-1zM317 471h1v1h-1zM316 470h1v1h-1zM326 472h1v1h-1zM327 472h1v1h-1zM326 473h1v1h-1zM325 472h1v1h-1zM328 467h1v1h-1zM328 466h1v1h-1zM327 467h1v1h-1zM296 449h1v1h-1zM296 448h1v1h-1zM296 450h1v1h-1zM295 449h1v1h-1zM310 447h1v1h-1zM310 446h1v1h-1zM311 447h1v1h-1zM310 448h1v1h-1zM309 447h1v1h-1zM311 443h1v1h-1zM311 442h1v1h-1zM310 443h1v1h-1zM335 445h1v1h-1zM335 444h1v1h-1zM336 445h1v1h-1zM335 446h1v1h-1zM334 445h1v1h-1zM308 424h1v1h-1zM308 423h1v1h-1zM308 425h1v1h-1zM307 424h1v1h-1zM318 423h1v1h-1zM319 423h1v1h-1zM318 424h1v1h-1zM317 423h1v1h-1zM314 424h1v1h-1zM314 423h1v1h-1zM315 424h1v1h-1zM314 425h1v1h-1zM313 424h1v1h-1zM328 425h1v1h-1zM329 425h1v1h-1zM328 426h1v1h-1zM327 425h1v1h-1zM323 433h1v1h-1zM323 432h1v1h-1zM324 433h1v1h-1zM322 433h1v1h-1zM308 440h1v1h-1zM308 439h1v1h-1zM309 440h1v1h-1zM308 441h1v1h-1zM307 440h1v1h-1zM313 442h1v1h-1zM313 441h1v1h-1zM314 442h1v1h-1zM313 443h1v1h-1zM312 442h1v1h-1zM326 440h1v1h-1zM326 439h1v1h-1zM326 441h1v1h-1zM325 440h1v1h-1zM324 443h1v1h-1zM324 442h1v1h-1zM324 444h1v1h-1zM323 443h1v1h-1zM329 443h1v1h-1zM329 442h1v1h-1zM330 443h1v1h-1zM329 444h1v1h-1zM328 443h1v1h-1zM333 440h1v1h-1zM333 439h1v1h-1zM334 440h1v1h-1zM333 441h1v1h-1zM334 442h1v1h-1zM334 441h1v1h-1zM335 442h1v1h-1zM334 443h1v1h-1zM333 442h1v1h-1zM332 434h1v1h-1zM332 433h1v1h-1zM333 434h1v1h-1zM338 438h1v1h-1zM339 438h1v1h-1zM338 439h1v1h-1zM336 421h1v1h-1zM336 420h1v1h-1zM337 421h1v1h-1zM335 421h1v1h-1zM334 426h1v1h-1zM335 426h1v1h-1zM334 427h1v1h-1zM333 426h1v1h-1zM335 416h1v1h-1zM335 415h1v1h-1zM336 416h1v1h-1zM339 408h1v1h-1zM340 408h1v1h-1zM339 409h1v1h-1zM338 408h1v1h-1zM339 416h1v1h-1zM339 415h1v1h-1zM340 416h1v1h-1zM339 417h1v1h-1zM348 367h1v1h-1zM349 367h1v1h-1zM348 368h1v1h-1zM347 367h1v1h-1zM350 372h1v1h-1zM351 372h1v1h-1zM350 373h1v1h-1zM349 372h1v1h-1zM362 369h1v1h-1zM362 368h1v1h-1zM363 369h1v1h-1zM361 369h1v1h-1zM361 373h1v1h-1zM361 372h1v1h-1zM360 373h1v1h-1zM347 378h1v1h-1zM347 377h1v1h-1zM347 379h1v1h-1zM346 378h1v1h-1zM347 382h1v1h-1zM347 381h1v1h-1zM348 382h1v1h-1zM347 383h1v1h-1zM346 382h1v1h-1zM367 386h1v1h-1zM368 386h1v1h-1zM367 387h1v1h-1zM352 384h1v1h-1zM353 384h1v1h-1zM352 385h1v1h-1zM351 384h1v1h-1zM345 386h1v1h-1zM345 385h1v1h-1zM346 386h1v1h-1zM345 387h1v1h-1zM343 388h1v1h-1zM343 387h1v1h-1zM344 388h1v1h-1zM343 389h1v1h-1zM342 388h1v1h-1zM358 390h1v1h-1zM358 389h1v1h-1zM359 390h1v1h-1zM358 391h1v1h-1zM357 390h1v1h-1zM363 389h1v1h-1zM363 388h1v1h-1zM364 389h1v1h-1zM363 390h1v1h-1zM360 395h1v1h-1zM360 394h1v1h-1zM359 395h1v1h-1zM347 395h1v1h-1zM347 394h1v1h-1zM347 396h1v1h-1zM346 395h1v1h-1zM343 400h1v1h-1zM343 399h1v1h-1zM344 400h1v1h-1zM343 401h1v1h-1zM367 400h1v1h-1zM367 399h1v1h-1zM367 401h1v1h-1zM366 400h1v1h-1zM360 399h1v1h-1zM361 399h1v1h-1zM360 400h1v1h-1zM359 399h1v1h-1zM352 403h1v1h-1zM353 403h1v1h-1zM352 404h1v1h-1zM351 403h1v1h-1zM361 403h1v1h-1zM361 402h1v1h-1zM362 403h1v1h-1zM343 403h1v1h-1zM343 402h1v1h-1zM344 403h1v1h-1zM343 404h1v1h-1zM342 403h1v1h-1zM382 387h1v1h-1zM382 386h1v1h-1zM383 387h1v1h-1zM382 388h1v1h-1zM381 387h1v1h-1zM377 389h1v1h-1zM377 388h1v1h-1zM378 389h1v1h-1zM377 390h1v1h-1zM376 389h1v1h-1zM379 390h1v1h-1zM379 389h1v1h-1zM380 390h1v1h-1zM379 391h1v1h-1zM382 391h1v1h-1zM382 390h1v1h-1zM383 391h1v1h-1zM381 391h1v1h-1zM356 403h1v1h-1zM356 402h1v1h-1zM357 403h1v1h-1zM356 404h1v1h-1zM355 403h1v1h-1zM339 409h1v1h-1zM339 408h1v1h-1zM340 409h1v1h-1zM339 410h1v1h-1zM338 409h1v1h-1zM336 410h1v1h-1zM337 410h1v1h-1zM336 411h1v1h-1zM335 410h1v1h-1zM340 414h1v1h-1zM340 413h1v1h-1zM341 414h1v1h-1zM343 417h1v1h-1zM343 416h1v1h-1zM343 418h1v1h-1zM342 417h1v1h-1zM341 421h1v1h-1zM341 420h1v1h-1zM342 421h1v1h-1zM341 422h1v1h-1zM333 426h1v1h-1zM333 425h1v1h-1zM334 426h1v1h-1zM333 427h1v1h-1zM332 426h1v1h-1zM354 407h1v1h-1zM354 408h1v1h-1zM353 407h1v1h-1zM356 408h1v1h-1zM356 407h1v1h-1zM356 409h1v1h-1zM355 408h1v1h-1zM355 410h1v1h-1zM355 409h1v1h-1zM356 410h1v1h-1zM354 410h1v1h-1zM352 417h1v1h-1zM352 416h1v1h-1zM353 417h1v1h-1zM352 418h1v1h-1zM351 417h1v1h-1zM367 417h1v1h-1zM367 416h1v1h-1zM368 417h1v1h-1zM367 418h1v1h-1zM366 417h1v1h-1zM363 423h1v1h-1zM364 423h1v1h-1zM363 424h1v1h-1zM362 423h1v1h-1zM360 422h1v1h-1zM360 421h1v1h-1zM361 422h1v1h-1zM360 423h1v1h-1zM359 422h1v1h-1zM355 426h1v1h-1zM355 425h1v1h-1zM356 426h1v1h-1zM355 427h1v1h-1zM354 426h1v1h-1zM348 428h1v1h-1zM348 427h1v1h-1zM349 428h1v1h-1zM348 429h1v1h-1zM336 437h1v1h-1zM336 436h1v1h-1zM336 438h1v1h-1zM335 437h1v1h-1zM341 436h1v1h-1zM341 435h1v1h-1zM342 436h1v1h-1zM341 437h1v1h-1zM345 437h1v1h-1zM345 436h1v1h-1zM346 437h1v1h-1zM345 438h1v1h-1zM344 437h1v1h-1zM338 441h1v1h-1zM338 442h1v1h-1zM337 441h1v1h-1zM334 443h1v1h-1zM334 442h1v1h-1zM333 443h1v1h-1zM367 431h1v1h-1zM367 430h1v1h-1zM366 431h1v1h-1zM360 439h1v1h-1zM361 439h1v1h-1zM360 440h1v1h-1zM359 439h1v1h-1zM374 434h1v1h-1zM374 433h1v1h-1zM375 434h1v1h-1zM374 435h1v1h-1zM373 434h1v1h-1zM387 440h1v1h-1zM387 439h1v1h-1zM388 440h1v1h-1zM387 441h1v1h-1zM386 440h1v1h-1zM375 441h1v1h-1zM375 440h1v1h-1zM376 441h1v1h-1zM374 441h1v1h-1zM392 373h1v1h-1zM392 372h1v1h-1zM393 373h1v1h-1zM392 374h1v1h-1zM391 373h1v1h-1zM422 370h1v1h-1zM422 369h1v1h-1zM421 370h1v1h-1zM421 376h1v1h-1zM421 375h1v1h-1zM421 377h1v1h-1zM420 376h1v1h-1zM407 380h1v1h-1zM408 380h1v1h-1zM407 381h1v1h-1zM406 380h1v1h-1zM407 383h1v1h-1zM407 382h1v1h-1zM408 383h1v1h-1zM407 384h1v1h-1zM443 374h1v1h-1zM444 374h1v1h-1zM443 375h1v1h-1zM442 374h1v1h-1zM389 389h1v1h-1zM389 388h1v1h-1zM390 389h1v1h-1zM388 389h1v1h-1zM392 388h1v1h-1zM392 387h1v1h-1zM393 388h1v1h-1zM392 389h1v1h-1zM391 388h1v1h-1zM400 388h1v1h-1zM400 387h1v1h-1zM401 388h1v1h-1zM400 389h1v1h-1zM399 388h1v1h-1zM396 384h1v1h-1zM396 383h1v1h-1zM397 384h1v1h-1zM396 385h1v1h-1zM395 384h1v1h-1zM385 396h1v1h-1zM386 396h1v1h-1zM385 397h1v1h-1zM384 396h1v1h-1zM430 396h1v1h-1zM430 395h1v1h-1zM431 396h1v1h-1zM430 397h1v1h-1zM429 396h1v1h-1zM448 401h1v1h-1zM448 400h1v1h-1zM449 401h1v1h-1zM401 433h1v1h-1zM401 434h1v1h-1zM400 433h1v1h-1zM447 439h1v1h-1zM448 439h1v1h-1zM447 440h1v1h-1zM446 439h1v1h-1zM433 404h1v1h-1zM434 404h1v1h-1zM433 405h1v1h-1zM432 404h1v1h-1zM456 413h1v1h-1zM456 412h1v1h-1zM457 413h1v1h-1zM455 413h1v1h-1zM403 445h1v1h-1zM404 445h1v1h-1zM403 446h1v1h-1zM406 443h1v1h-1zM406 442h1v1h-1zM407 443h1v1h-1zM406 444h1v1h-1zM405 443h1v1h-1zM408 445h1v1h-1zM408 444h1v1h-1zM409 445h1v1h-1zM408 446h1v1h-1zM407 445h1v1h-1zM419 441h1v1h-1zM419 440h1v1h-1zM419 442h1v1h-1zM418 441h1v1h-1zM421 443h1v1h-1zM421 442h1v1h-1zM422 443h1v1h-1zM421 444h1v1h-1zM420 443h1v1h-1zM420 446h1v1h-1zM420 445h1v1h-1zM421 446h1v1h-1zM420 447h1v1h-1zM419 446h1v1h-1zM421 449h1v1h-1zM421 448h1v1h-1zM422 449h1v1h-1zM421 450h1v1h-1zM420 449h1v1h-1zM425 443h1v1h-1zM426 443h1v1h-1zM425 444h1v1h-1zM424 443h1v1h-1zM430 446h1v1h-1zM430 445h1v1h-1zM430 447h1v1h-1zM429 446h1v1h-1zM440 446h1v1h-1zM440 445h1v1h-1zM440 447h1v1h-1zM439 446h1v1h-1zM367 431h1v1h-1zM367 430h1v1h-1zM368 431h1v1h-1zM367 432h1v1h-1zM366 431h1v1h-1zM375 435h1v1h-1zM375 434h1v1h-1zM375 436h1v1h-1zM374 435h1v1h-1zM377 435h1v1h-1zM378 435h1v1h-1zM377 436h1v1h-1zM376 435h1v1h-1zM378 435h1v1h-1zM378 434h1v1h-1zM379 435h1v1h-1zM378 436h1v1h-1zM377 435h1v1h-1zM376 440h1v1h-1zM376 439h1v1h-1zM377 440h1v1h-1zM376 441h1v1h-1zM375 440h1v1h-1zM393 441h1v1h-1zM393 440h1v1h-1zM394 441h1v1h-1zM393 442h1v1h-1zM392 441h1v1h-1zM392 430h1v1h-1zM392 429h1v1h-1zM393 430h1v1h-1zM392 431h1v1h-1zM403 446h1v1h-1zM403 445h1v1h-1zM404 446h1v1h-1zM402 446h1v1h-1zM445 405h1v1h-1zM445 404h1v1h-1zM446 405h1v1h-1zM445 406h1v1h-1zM444 405h1v1h-1zM482 390h1v1h-1zM482 389h1v1h-1zM483 390h1v1h-1zM481 390h1v1h-1zM488 390h1v1h-1zM488 389h1v1h-1zM489 390h1v1h-1zM488 391h1v1h-1zM487 390h1v1h-1zM498 396h1v1h-1zM498 395h1v1h-1zM499 396h1v1h-1zM498 397h1v1h-1zM497 396h1v1h-1zM498 398h1v1h-1zM498 397h1v1h-1zM498 399h1v1h-1zM497 398h1v1h-1zM503 406h1v1h-1zM504 406h1v1h-1zM503 407h1v1h-1zM502 406h1v1h-1zM505 443h1v1h-1zM506 443h1v1h-1zM505 444h1v1h-1zM504 443h1v1h-1zM538 438h1v1h-1zM538 437h1v1h-1zM539 438h1v1h-1zM538 439h1v1h-1zM537 438h1v1h-1zM536 441h1v1h-1zM536 440h1v1h-1zM536 442h1v1h-1zM535 441h1v1h-1zM399 132h1v1h-1zM399 131h1v1h-1zM400 132h1v1h-1zM399 133h1v1h-1zM392 143h1v1h-1zM392 142h1v1h-1zM393 143h1v1h-1zM392 144h1v1h-1zM391 143h1v1h-1zM394 143h1v1h-1zM394 142h1v1h-1zM395 143h1v1h-1zM394 144h1v1h-1zM397 142h1v1h-1zM397 141h1v1h-1zM398 142h1v1h-1zM397 143h1v1h-1zM396 142h1v1h-1zM397 145h1v1h-1zM398 145h1v1h-1zM397 146h1v1h-1zM387 188h1v1h-1zM387 187h1v1h-1zM388 188h1v1h-1zM387 189h1v1h-1zM398 186h1v1h-1zM398 185h1v1h-1zM399 186h1v1h-1zM398 187h1v1h-1zM397 186h1v1h-1zM433 274h1v1h-1zM433 273h1v1h-1zM434 274h1v1h-1zM433 275h1v1h-1zM440 272h1v1h-1zM440 271h1v1h-1zM441 272h1v1h-1zM440 273h1v1h-1zM444 276h1v1h-1zM445 276h1v1h-1zM444 277h1v1h-1zM443 276h1v1h-1zM451 278h1v1h-1zM451 277h1v1h-1zM451 279h1v1h-1zM450 278h1v1h-1zM429 304h1v1h-1zM429 303h1v1h-1zM430 304h1v1h-1zM429 305h1v1h-1zM428 304h1v1h-1zM456 302h1v1h-1zM456 301h1v1h-1zM457 302h1v1h-1zM456 303h1v1h-1zM455 302h1v1h-1zM503 283h1v1h-1zM503 282h1v1h-1zM504 283h1v1h-1zM503 284h1v1h-1zM502 283h1v1h-1zM387 446h1v1h-1zM387 445h1v1h-1zM388 446h1v1h-1zM387 447h1v1h-1zM386 446h1v1h-1zM392 447h1v1h-1zM392 446h1v1h-1zM393 447h1v1h-1zM392 448h1v1h-1zM397 446h1v1h-1zM397 445h1v1h-1zM397 447h1v1h-1zM396 446h1v1h-1zM399 447h1v1h-1zM399 446h1v1h-1zM400 447h1v1h-1zM399 448h1v1h-1zM401 446h1v1h-1zM402 446h1v1h-1zM401 447h1v1h-1zM400 446h1v1h-1zM403 448h1v1h-1zM403 447h1v1h-1zM403 449h1v1h-1zM402 448h1v1h-1zM404 444h1v1h-1zM404 443h1v1h-1zM405 444h1v1h-1zM404 445h1v1h-1zM403 444h1v1h-1zM407 445h1v1h-1zM407 444h1v1h-1zM408 445h1v1h-1zM407 446h1v1h-1zM415 448h1v1h-1zM416 448h1v1h-1zM415 449h1v1h-1zM414 448h1v1h-1zM416 448h1v1h-1zM417 448h1v1h-1zM416 449h1v1h-1zM421 447h1v1h-1zM421 446h1v1h-1zM422 447h1v1h-1zM421 448h1v1h-1zM420 447h1v1h-1zM424 447h1v1h-1zM424 448h1v1h-1zM423 447h1v1h-1zM447 447h1v1h-1zM447 446h1v1h-1zM447 448h1v1h-1zM446 447h1v1h-1zM452 447h1v1h-1zM452 448h1v1h-1zM451 447h1v1h-1zM311 466h1v1h-1zM311 465h1v1h-1zM312 466h1v1h-1zM311 467h1v1h-1zM310 466h1v1h-1zM319 471h1v1h-1zM319 470h1v1h-1zM320 471h1v1h-1zM319 472h1v1h-1zM318 471h1v1h-1zM319 467h1v1h-1zM319 466h1v1h-1zM320 467h1v1h-1zM319 468h1v1h-1zM321 474h1v1h-1zM321 473h1v1h-1zM322 474h1v1h-1zM321 475h1v1h-1zM340 468h1v1h-1zM340 467h1v1h-1zM339 468h1v1h-1zM299 443h1v1h-1zM299 442h1v1h-1zM300 443h1v1h-1zM299 444h1v1h-1zM298 443h1v1h-1zM306 445h1v1h-1zM306 444h1v1h-1zM307 445h1v1h-1zM309 442h1v1h-1zM310 442h1v1h-1zM309 443h1v1h-1zM308 442h1v1h-1zM327 439h1v1h-1zM327 438h1v1h-1zM328 439h1v1h-1zM327 440h1v1h-1zM331 442h1v1h-1zM331 441h1v1h-1zM332 442h1v1h-1zM331 443h1v1h-1zM343 444h1v1h-1zM343 443h1v1h-1zM344 444h1v1h-1zM320 425h1v1h-1zM320 424h1v1h-1zM321 425h1v1h-1zM320 426h1v1h-1zM319 425h1v1h-1zM316 426h1v1h-1zM316 425h1v1h-1zM317 426h1v1h-1zM316 427h1v1h-1zM315 426h1v1h-1zM328 439h1v1h-1zM328 438h1v1h-1zM327 439h1v1h-1zM332 439h1v1h-1zM332 438h1v1h-1zM333 439h1v1h-1zM332 440h1v1h-1zM336 444h1v1h-1zM336 443h1v1h-1zM337 444h1v1h-1zM336 445h1v1h-1zM335 444h1v1h-1zM337 417h1v1h-1zM337 416h1v1h-1zM338 417h1v1h-1zM337 418h1v1h-1zM336 417h1v1h-1zM338 413h1v1h-1zM338 412h1v1h-1zM339 413h1v1h-1zM338 414h1v1h-1zM359 380h1v1h-1zM359 379h1v1h-1zM360 380h1v1h-1zM359 381h1v1h-1zM342 393h1v1h-1zM342 394h1v1h-1zM341 393h1v1h-1zM351 392h1v1h-1zM351 391h1v1h-1zM352 392h1v1h-1zM363 391h1v1h-1zM363 390h1v1h-1zM364 391h1v1h-1zM362 391h1v1h-1zM345 397h1v1h-1zM345 396h1v1h-1zM345 398h1v1h-1zM344 397h1v1h-1zM344 398h1v1h-1zM345 398h1v1h-1zM344 399h1v1h-1zM343 398h1v1h-1zM356 403h1v1h-1zM356 402h1v1h-1zM357 403h1v1h-1zM356 404h1v1h-1zM355 403h1v1h-1zM359 402h1v1h-1zM359 401h1v1h-1zM360 402h1v1h-1zM359 403h1v1h-1zM343 401h1v1h-1zM343 400h1v1h-1zM344 401h1v1h-1zM342 401h1v1h-1zM357 401h1v1h-1zM358 401h1v1h-1zM357 402h1v1h-1zM356 401h1v1h-1zM359 403h1v1h-1zM359 402h1v1h-1zM360 403h1v1h-1zM359 404h1v1h-1zM358 403h1v1h-1zM335 415h1v1h-1zM336 415h1v1h-1zM335 416h1v1h-1zM334 415h1v1h-1zM342 417h1v1h-1zM342 416h1v1h-1zM343 417h1v1h-1zM350 418h1v1h-1zM350 417h1v1h-1zM351 418h1v1h-1zM350 419h1v1h-1zM349 418h1v1h-1zM330 423h1v1h-1zM331 423h1v1h-1zM330 424h1v1h-1zM329 423h1v1h-1zM354 408h1v1h-1zM354 407h1v1h-1zM355 408h1v1h-1zM353 410h1v1h-1zM353 409h1v1h-1zM354 410h1v1h-1zM353 411h1v1h-1zM356 409h1v1h-1zM356 408h1v1h-1zM357 409h1v1h-1zM356 410h1v1h-1zM355 409h1v1h-1zM349 412h1v1h-1zM349 411h1v1h-1zM350 412h1v1h-1zM349 413h1v1h-1zM348 412h1v1h-1zM353 418h1v1h-1zM354 418h1v1h-1zM353 419h1v1h-1zM352 418h1v1h-1zM354 420h1v1h-1zM354 419h1v1h-1zM355 420h1v1h-1zM354 421h1v1h-1zM353 420h1v1h-1zM359 421h1v1h-1zM359 420h1v1h-1zM360 421h1v1h-1zM359 422h1v1h-1zM358 421h1v1h-1zM337 436h1v1h-1zM337 435h1v1h-1zM338 436h1v1h-1zM337 437h1v1h-1zM336 436h1v1h-1zM335 440h1v1h-1zM336 440h1v1h-1zM335 441h1v1h-1zM334 440h1v1h-1z" fill="#2800e0"/>
<path d="M300 441h1v1h-1zM301 441h1v1h-1zM300 442h1v1h-1zM299 441h1v1h-1zM313 419h1v1h-1zM313 418h1v1h-1zM314 419h1v1h-1zM324 425h1v1h-1zM324 424h1v1h-1zM325 425h1v1h-1zM324 426h1v1h-1zM320 438h1v1h-1zM320 437h1v1h-1zM321 438h1v1h-1zM320 439h1v1h-1zM339 424h1v1h-1zM340 424h1v1h-1zM339 425h1v1h-1zM338 424h1v1h-1zM337 411h1v1h-1zM337 410h1v1h-1zM338 411h1v1h-1zM337 412h1v1h-1zM336 411h1v1h-1zM355 381h1v1h-1zM355 380h1v1h-1zM355 382h1v1h-1zM354 381h1v1h-1zM367 381h1v1h-1zM368 381h1v1h-1zM367 382h1v1h-1zM343 393h1v1h-1zM344 393h1v1h-1zM343 394h1v1h-1zM350 391h1v1h-1zM350 390h1v1h-1zM351 391h1v1h-1zM350 392h1v1h-1zM349 391h1v1h-1zM367 397h1v1h-1zM368 397h1v1h-1zM367 398h1v1h-1zM366 397h1v1h-1zM360 403h1v1h-1zM361 403h1v1h-1zM360 404h1v1h-1zM359 403h1v1h-1zM361 405h1v1h-1zM361 404h1v1h-1zM362 405h1v1h-1zM361 406h1v1h-1zM337 413h1v1h-1zM337 412h1v1h-1zM338 413h1v1h-1zM337 414h1v1h-1zM336 413h1v1h-1zM349 420h1v1h-1zM349 419h1v1h-1zM350 420h1v1h-1zM349 421h1v1h-1zM348 420h1v1h-1zM346 421h1v1h-1zM346 420h1v1h-1zM347 421h1v1h-1zM345 421h1v1h-1zM343 422h1v1h-1zM343 421h1v1h-1zM343 423h1v1h-1zM342 422h1v1h-1zM354 411h1v1h-1zM354 410h1v1h-1zM355 411h1v1h-1zM354 412h1v1h-1zM350 428h1v1h-1zM350 427h1v1h-1zM351 428h1v1h-1zM350 429h1v1h-1zM337 434h1v1h-1zM338 434h1v1h-1zM337 435h1v1h-1zM336 434h1v1h-1zM331 442h1v1h-1zM331 441h1v1h-1zM332 442h1v1h-1zM335 414h1v1h-1zM335 415h1v1h-1zM334 414h1v1h-1zM353 390h1v1h-1zM353 389h1v1h-1zM353 391h1v1h-1zM352 390h1v1h-1zM368 395h1v1h-1zM368 394h1v1h-1zM369 395h1v1h-1zM368 396h1v1h-1zM367 395h1v1h-1zM342 403h1v1h-1zM342 404h1v1h-1zM341 403h1v1h-1zM345 406h1v1h-1zM345 405h1v1h-1zM346 406h1v1h-1zM345 407h1v1h-1zM344 406h1v1h-1zM361 401h1v1h-1zM361 400h1v1h-1zM362 401h1v1h-1zM361 402h1v1h-1zM338 408h1v1h-1zM338 407h1v1h-1zM339 408h1v1h-1zM338 409h1v1h-1zM347 419h1v1h-1zM348 419h1v1h-1zM347 420h1v1h-1zM348 426h1v1h-1zM348 425h1v1h-1zM349 426h1v1h-1zM348 427h1v1h-1zM347 426h1v1h-1zM349 426h1v1h-1zM349 425h1v1h-1zM350 426h1v1h-1zM349 427h1v1h-1zM348 426h1v1h-1zM335 435h1v1h-1zM335 434h1v1h-1zM335 436h1v1h-1zM334 435h1v1h-1z" fill="#4000c8"/>
<path d="M341 447h1v1h-1zM341 446h1v1h-1zM342 447h1v1h-1zM341 448h1v1h-1zM340 447h1v1h-1zM388 437h1v1h-1zM388 436h1v1h-1zM389 437h1v1h-1zM388 438h1v1h-1zM387 437h1v1h-1zM415 370h1v1h-1zM415 369h1v1h-1zM416 370h1v1h-1zM415 371h1v1h-1zM414 370h1v1h-1zM444 384h1v1h-1zM445 384h1v1h-1zM444 385h1v1h-1zM443 384h1v1h-1zM409 389h1v1h-1zM409 388h1v1h-1zM410 389h1v1h-1zM413 391h1v1h-1zM413 390h1v1h-1zM414 391h1v1h-1zM413 392h1v1h-1zM412 391h1v1h-1zM396 401h1v1h-1zM396 400h1v1h-1zM397 401h1v1h-1zM396 402h1v1h-1zM410 399h1v1h-1zM410 398h1v1h-1zM411 399h1v1h-1zM410 400h1v1h-1zM409 399h1v1h-1zM413 405h1v1h-1zM414 405h1v1h-1zM413 406h1v1h-1zM412 405h1v1h-1zM411 407h1v1h-1zM412 407h1v1h-1zM411 408h1v1h-1zM410 407h1v1h-1zM415 407h1v1h-1zM416 407h1v1h-1zM415 408h1v1h-1zM414 407h1v1h-1zM404 409h1v1h-1zM404 408h1v1h-1zM404 410h1v1h-1zM403 409h1v1h-1zM413 411h1v1h-1zM413 410h1v1h-1zM414 411h1v1h-1zM413 412h1v1h-1zM412 411h1v1h-1zM416 411h1v1h-1zM416 410h1v1h-1zM417 411h1v1h-1zM416 412h1v1h-1zM406 415h1v1h-1zM406 414h1v1h-1zM407 415h1v1h-1zM398 414h1v1h-1zM398 413h1v1h-1zM399 414h1v1h-1zM398 415h1v1h-1zM397 414h1v1h-1zM399 417h1v1h-1zM400 417h1v1h-1zM399 418h1v1h-1zM398 417h1v1h-1zM421 416h1v1h-1zM421 415h1v1h-1zM422 416h1v1h-1zM421 417h1v1h-1zM420 416h1v1h-1zM399 422h1v1h-1zM399 421h1v1h-1zM400 422h1v1h-1zM399 423h1v1h-1zM398 422h1v1h-1zM403 423h1v1h-1zM403 422h1v1h-1zM404 423h1v1h-1zM429 423h1v1h-1zM430 423h1v1h-1zM429 424h1v1h-1zM428 423h1v1h-1zM448 376h1v1h-1zM448 375h1v1h-1zM449 376h1v1h-1zM448 377h1v1h-1zM447 376h1v1h-1zM444 384h1v1h-1zM444 383h1v1h-1zM445 384h1v1h-1zM444 385h1v1h-1zM443 384h1v1h-1zM440 388h1v1h-1zM440 387h1v1h-1zM441 388h1v1h-1zM440 389h1v1h-1zM439 388h1v1h-1zM412 407h1v1h-1zM413 407h1v1h-1zM412 408h1v1h-1zM411 407h1v1h-1zM413 412h1v1h-1zM413 411h1v1h-1zM414 412h1v1h-1zM413 413h1v1h-1zM412 412h1v1h-1zM406 415h1v1h-1zM406 414h1v1h-1zM407 415h1v1h-1zM406 416h1v1h-1zM405 415h1v1h-1zM401 417h1v1h-1zM401 416h1v1h-1zM400 417h1v1h-1zM429 424h1v1h-1zM429 423h1v1h-1zM430 424h1v1h-1zM429 425h1v1h-1zM428 424h1v1h-1zM403 421h1v1h-1zM404 421h1v1h-1zM403 422h1v1h-1zM402 421h1v1h-1zM403 424h1v1h-1zM403 423h1v1h-1zM403 425h1v1h-1zM402 424h1v1h-1zM409 426h1v1h-1zM409 425h1v1h-1zM410 426h1v1h-1zM409 427h1v1h-1zM408 426h1v1h-1zM412 430h1v1h-1zM412 429h1v1h-1zM413 430h1v1h-1zM412 431h1v1h-1zM411 430h1v1h-1zM414 433h1v1h-1zM414 432h1v1h-1zM415 433h1v1h-1zM414 434h1v1h-1zM413 433h1v1h-1zM423 434h1v1h-1zM423 433h1v1h-1zM424 434h1v1h-1zM423 435h1v1h-1zM422 434h1v1h-1zM425 438h1v1h-1zM425 437h1v1h-1zM425 439h1v1h-1zM424 438h1v1h-1zM432 435h1v1h-1zM433 435h1v1h-1zM432 436h1v1h-1zM431 435h1v1h-1zM419 439h1v1h-1zM419 438h1v1h-1zM420 439h1v1h-1zM419 440h1v1h-1zM418 439h1v1h-1zM450 438h1v1h-1zM450 437h1v1h-1zM451 438h1v1h-1zM450 439h1v1h-1zM449 438h1v1h-1zM445 440h1v1h-1zM445 439h1v1h-1zM446 440h1v1h-1zM445 441h1v1h-1zM452 443h1v1h-1zM452 442h1v1h-1zM453 443h1v1h-1zM452 444h1v1h-1zM458 442h1v1h-1zM458 441h1v1h-1zM457 442h1v1h-1zM440 450h1v1h-1zM440 449h1v1h-1zM441 450h1v1h-1zM439 450h1v1h-1zM389 437h1v1h-1zM389 436h1v1h-1zM390 437h1v1h-1zM389 438h1v1h-1zM454 353h1v1h-1zM454 352h1v1h-1zM455 353h1v1h-1zM450 355h1v1h-1zM450 354h1v1h-1zM451 355h1v1h-1zM449 355h1v1h-1zM452 358h1v1h-1zM452 357h1v1h-1zM453 358h1v1h-1zM452 359h1v1h-1zM496 365h1v1h-1zM496 364h1v1h-1zM497 365h1v1h-1zM496 366h1v1h-1zM495 365h1v1h-1zM482 396h1v1h-1zM482 395h1v1h-1zM482 397h1v1h-1zM481 396h1v1h-1zM488 392h1v1h-1zM489 392h1v1h-1zM488 393h1v1h-1zM536 397h1v1h-1zM537 397h1v1h-1zM536 398h1v1h-1zM548 392h1v1h-1zM549 392h1v1h-1zM548 393h1v1h-1zM552 396h1v1h-1zM553 396h1v1h-1zM552 397h1v1h-1zM481 446h1v1h-1zM481 445h1v1h-1zM482 446h1v1h-1zM481 447h1v1h-1zM480 446h1v1h-1zM498 439h1v1h-1zM498 438h1v1h-1zM498 440h1v1h-1zM497 439h1v1h-1zM389 131h1v1h-1zM389 130h1v1h-1zM390 131h1v1h-1zM389 132h1v1h-1zM388 131h1v1h-1zM399 140h1v1h-1zM399 139h1v1h-1zM400 140h1v1h-1zM398 140h1v1h-1zM388 199h1v1h-1zM388 198h1v1h-1zM389 199h1v1h-1zM388 200h1v1h-1zM387 199h1v1h-1zM444 271h1v1h-1zM444 270h1v1h-1zM445 271h1v1h-1zM444 272h1v1h-1zM443 271h1v1h-1zM410 305h1v1h-1zM410 304h1v1h-1zM411 305h1v1h-1zM410 306h1v1h-1zM539 264h1v1h-1zM539 263h1v1h-1zM540 264h1v1h-1zM539 265h1v1h-1zM538 264h1v1h-1zM521 278h1v1h-1zM521 277h1v1h-1zM522 278h1v1h-1zM521 279h1v1h-1zM520 278h1v1h-1zM527 277h1v1h-1zM527 276h1v1h-1zM526 277h1v1h-1zM548 277h1v1h-1zM548 276h1v1h-1zM549 277h1v1h-1zM548 278h1v1h-1zM547 277h1v1h-1zM552 277h1v1h-1zM552 276h1v1h-1zM553 277h1v1h-1zM552 278h1v1h-1zM559 298h1v1h-1zM560 298h1v1h-1zM559 299h1v1h-1zM558 298h1v1h-1zM604 122h1v1h-1zM604 123h1v1h-1zM603 122h1v1h-1zM598 276h1v1h-1zM598 275h1v1h-1zM599 276h1v1h-1zM598 277h1v1h-1zM597 276h1v1h-1zM310 313h1v1h-1zM310 312h1v1h-1zM310 314h1v1h-1zM309 313h1v1h-1z" fill="#b0ff00"/>
<path d="M410 386h1v1h-1zM410 385h1v1h-1zM411 386h1v1h-1zM410 387h1v1h-1zM409 386h1v1h-1zM408 396h1v1h-1zM409 396h1v1h-1zM408 397h1v1h-1zM407 396h1v1h-1zM411 397h1v1h-1zM411 396h1v1h-1zM412 397h1v1h-1zM411 398h1v1h-1zM410 397h1v1h-1zM403 403h1v1h-1zM403 402h1v1h-1zM403 404h1v1h-1zM402 403h1v1h-1zM408 405h1v1h-1zM408 404h1v1h-1zM409 405h1v1h-1zM408 406h1v1h-1zM407 405h1v1h-1zM407 406h1v1h-1zM408 406h1v1h-1zM407 407h1v1h-1zM406 406h1v1h-1zM418 415h1v1h-1zM419 415h1v1h-1zM418 416h1v1h-1zM417 415h1v1h-1zM416 417h1v1h-1zM416 416h1v1h-1zM417 417h1v1h-1zM416 418h1v1h-1zM415 417h1v1h-1zM424 417h1v1h-1zM425 417h1v1h-1zM424 418h1v1h-1zM403 421h1v1h-1zM403 420h1v1h-1zM404 421h1v1h-1zM403 422h1v1h-1zM402 421h1v1h-1zM422 421h1v1h-1zM422 420h1v1h-1zM421 421h1v1h-1zM403 403h1v1h-1zM403 402h1v1h-1zM404 403h1v1h-1zM403 404h1v1h-1zM404 409h1v1h-1zM404 408h1v1h-1zM405 409h1v1h-1zM404 410h1v1h-1zM403 409h1v1h-1zM409 410h1v1h-1zM410 410h1v1h-1zM409 411h1v1h-1zM408 410h1v1h-1zM416 416h1v1h-1zM416 415h1v1h-1zM417 416h1v1h-1zM415 416h1v1h-1zM418 414h1v1h-1zM418 413h1v1h-1zM419 414h1v1h-1zM418 415h1v1h-1zM422 421h1v1h-1zM422 420h1v1h-1zM423 421h1v1h-1zM422 422h1v1h-1zM421 421h1v1h-1zM402 426h1v1h-1zM403 426h1v1h-1zM402 427h1v1h-1zM401 426h1v1h-1zM410 428h1v1h-1zM410 429h1v1h-1zM409 428h1v1h-1zM415 431h1v1h-1zM415 430h1v1h-1zM416 431h1v1h-1zM415 432h1v1h-1zM414 431h1v1h-1zM430 438h1v1h-1zM430 437h1v1h-1zM431 438h1v1h-1zM430 439h1v1h-1zM429 438h1v1h-1zM434 437h1v1h-1zM434 436h1v1h-1zM435 437h1v1h-1zM434 438h1v1h-1zM433 437h1v1h-1zM452 438h1v1h-1zM452 437h1v1h-1zM453 438h1v1h-1zM452 439h1v1h-1zM451 438h1v1h-1zM448 442h1v1h-1zM448 441h1v1h-1zM449 442h1v1h-1zM447 442h1v1h-1zM454 441h1v1h-1zM454 440h1v1h-1zM455 441h1v1h-1zM454 442h1v1h-1zM458 439h1v1h-1zM458 438h1v1h-1zM458 440h1v1h-1zM457 439h1v1h-1zM461 442h1v1h-1zM461 441h1v1h-1zM462 442h1v1h-1zM461 443h1v1h-1zM460 442h1v1h-1zM402 426h1v1h-1zM403 426h1v1h-1zM402 427h1v1h-1zM401 426h1v1h-1zM450 349h1v1h-1zM450 348h1v1h-1zM451 349h1v1h-1zM449 349h1v1h-1zM477 394h1v1h-1zM477 393h1v1h-1zM476 394h1v1h-1zM536 394h1v1h-1zM536 393h1v1h-1zM537 394h1v1h-1zM535 394h1v1h-1zM540 396h1v1h-1zM540 395h1v1h-1zM541 396h1v1h-1zM539 396h1v1h-1zM540 398h1v1h-1zM540 397h1v1h-1zM541 398h1v1h-1zM539 398h1v1h-1zM473 446h1v1h-1zM473 445h1v1h-1zM474 446h1v1h-1zM472 446h1v1h-1zM525 444h1v1h-1zM526 444h1v1h-1zM525 445h1v1h-1zM456 111h1v1h-1zM456 110h1v1h-1zM457 111h1v1h-1zM456 112h1v1h-1zM455 111h1v1h-1zM443 142h1v1h-1zM443 141h1v1h-1zM444 142h1v1h-1zM443 143h1v1h-1zM450 140h1v1h-1zM450 139h1v1h-1zM451 140h1v1h-1zM450 141h1v1h-1zM449 140h1v1h-1zM475 191h1v1h-1zM475 190h1v1h-1zM476 191h1v1h-1zM475 192h1v1h-1zM474 191h1v1h-1zM475 254h1v1h-1zM475 253h1v1h-1zM476 254h1v1h-1zM474 254h1v1h-1zM385 326h1v1h-1zM385 325h1v1h-1zM386 326h1v1h-1zM384 326h1v1h-1zM487 278h1v1h-1zM487 277h1v1h-1zM488 278h1v1h-1zM487 279h1v1h-1zM486 278h1v1h-1zM525 275h1v1h-1zM525 274h1v1h-1zM526 275h1v1h-1zM525 276h1v1h-1zM524 275h1v1h-1zM539 275h1v1h-1zM539 274h1v1h-1zM539 276h1v1h-1zM538 275h1v1h-1zM539 296h1v1h-1zM539 295h1v1h-1zM540 296h1v1h-1zM539 297h1v1h-1zM538 296h1v1h-1zM596 388h1v1h-1zM596 387h1v1h-1zM597 388h1v1h-1zM596 389h1v1h-1zM595 388h1v1h-1z" fill="#f0ff00"/>
<path d="M409 410h1v1h-1zM409 409h1v1h-1zM408 410h1v1h-1zM414 410h1v1h-1zM414 409h1v1h-1zM415 410h1v1h-1zM414 411h1v1h-1zM413 410h1v1h-1zM418 409h1v1h-1zM418 408h1v1h-1zM418 410h1v1h-1zM417 409h1v1h-1zM415 419h1v1h-1zM415 418h1v1h-1zM415 420h1v1h-1zM414 419h1v1h-1zM407 425h1v1h-1zM407 424h1v1h-1zM408 425h1v1h-1zM407 426h1v1h-1zM456 374h1v1h-1zM456 373h1v1h-1zM455 374h1v1h-1zM455 379h1v1h-1zM455 378h1v1h-1zM456 379h1v1h-1zM455 380h1v1h-1zM454 379h1v1h-1zM434 386h1v1h-1zM434 385h1v1h-1zM435 386h1v1h-1zM434 387h1v1h-1zM433 386h1v1h-1zM414 410h1v1h-1zM414 409h1v1h-1zM414 411h1v1h-1zM413 410h1v1h-1zM415 418h1v1h-1zM415 417h1v1h-1zM416 418h1v1h-1zM415 419h1v1h-1zM414 418h1v1h-1zM407 425h1v1h-1zM407 424h1v1h-1zM408 425h1v1h-1zM406 425h1v1h-1zM411 429h1v1h-1zM411 428h1v1h-1zM412 429h1v1h-1zM411 430h1v1h-1zM410 429h1v1h-1zM425 431h1v1h-1zM425 430h1v1h-1zM426 431h1v1h-1zM424 431h1v1h-1zM429 431h1v1h-1zM429 432h1v1h-1zM428 431h1v1h-1zM440 428h1v1h-1zM440 427h1v1h-1zM441 428h1v1h-1zM440 429h1v1h-1zM439 428h1v1h-1zM424 437h1v1h-1zM424 436h1v1h-1zM425 437h1v1h-1zM424 438h1v1h-1zM450 435h1v1h-1zM450 434h1v1h-1zM451 435h1v1h-1zM450 436h1v1h-1zM449 435h1v1h-1zM444 438h1v1h-1zM444 437h1v1h-1zM445 438h1v1h-1zM444 439h1v1h-1zM443 441h1v1h-1zM443 440h1v1h-1zM444 441h1v1h-1zM443 442h1v1h-1zM442 441h1v1h-1zM451 332h1v1h-1zM451 331h1v1h-1zM450 332h1v1h-1zM427 337h1v1h-1zM427 336h1v1h-1zM428 337h1v1h-1zM427 338h1v1h-1zM426 337h1v1h-1zM498 378h1v1h-1zM499 378h1v1h-1zM498 379h1v1h-1zM497 378h1v1h-1zM506 398h1v1h-1zM506 397h1v1h-1zM507 398h1v1h-1zM506 399h1v1h-1zM496 406h1v1h-1zM496 405h1v1h-1zM497 406h1v1h-1zM496 407h1v1h-1zM495 406h1v1h-1zM487 443h1v1h-1zM487 442h1v1h-1zM488 443h1v1h-1zM486 443h1v1h-1zM530 335h1v1h-1zM530 336h1v1h-1zM529 335h1v1h-1zM451 104h1v1h-1zM451 103h1v1h-1zM452 104h1v1h-1zM451 105h1v1h-1zM450 104h1v1h-1zM427 149h1v1h-1zM428 149h1v1h-1zM427 150h1v1h-1zM453 269h1v1h-1zM453 268h1v1h-1zM454 269h1v1h-1zM452 269h1v1h-1zM504 272h1v1h-1zM504 271h1v1h-1zM505 272h1v1h-1zM504 273h1v1h-1zM503 272h1v1h-1zM536 275h1v1h-1zM536 274h1v1h-1zM537 275h1v1h-1zM535 275h1v1h-1zM559 277h1v1h-1zM559 276h1v1h-1zM560 277h1v1h-1zM559 278h1v1h-1zM562 276h1v1h-1zM562 275h1v1h-1zM563 276h1v1h-1zM561 276h1v1h-1zM492 299h1v1h-1zM492 298h1v1h-1zM492 300h1v1h-1zM491 299h1v1h-1zM596 272h1v1h-1zM596 271h1v1h-1zM597 272h1v1h-1zM596 273h1v1h-1zM595 272h1v1h-1z" fill="#ffa000"/>
<path d="M427 437h1v1h-1zM427 436h1v1h-1zM428 437h1v1h-1zM427 438h1v1h-1zM426 437h1v1h-1zM456 443h1v1h-1zM456 442h1v1h-1zM457 443h1v1h-1zM456 444h1v1h-1zM484 393h1v1h-1zM485 393h1v1h-1zM484 394h1v1h-1zM483 393h1v1h-1zM451 122h1v1h-1zM451 121h1v1h-1zM450 122h1v1h-1zM452 127h1v1h-1zM452 126h1v1h-1zM453 127h1v1h-1zM452 128h1v1h-1zM451 127h1v1h-1zM454 268h1v1h-1zM454 267h1v1h-1zM455 268h1v1h-1zM454 269h1v1h-1zM453 268h1v1h-1zM499 278h1v1h-1zM499 277h1v1h-1zM498 278h1v1h-1z" fill="#ff0000"/>
<path d="M592 100h1v1h-1zM592 99h1v1h-1zM593 100h1v1h-1zM592 101h1v1h-1zM628 221h1v1h-1zM628 220h1v1h-1zM629 221h1v1h-1zM628 222h1v1h-1zM627 221h1v1h-1zM611 315h1v1h-1zM612 315h1v1h-1zM611 316h1v1h-1zM610 315h1v1h-1zM611 447h1v1h-1zM611 446h1v1h-1zM612 447h1v1h-1zM611 448h1v1h-1zM610 447h1v1h-1zM462 506h1v1h-1zM463 506h1v1h-1zM462 507h1v1h-1zM461 506h1v1h-1zM311 306h1v1h-1zM311 305h1v1h-1zM312 306h1v1h-1zM311 307h1v1h-1zM310 306h1v1h-1z" fill="#ff5000"/>
<path d="M621 318h1v1h-1zM621 317h1v1h-1zM622 318h1v1h-1zM621 319h1v1h-1zM620 318h1v1h-1z" fill="#70ff00"/></g>
</svg>
<svg width="800" height="600" viewBox="0 0 800 600" style="position:absolute;left:0;top:0;will-change:transform"><text x="76" y="67" font-size="11" text-anchor="end">750</text>
<text x="76" y="111" font-size="11" text-anchor="end">600</text>
<text x="76" y="149" font-size="11" text-anchor="end">500</text>
<text x="76" y="195" font-size="11" text-anchor="end">400</text>
<text x="76" y="255" font-size="11" text-anchor="end">300</text>
<text x="76" y="340" font-size="11" text-anchor="end">200</text>
<text x="76" y="484" font-size="11" text-anchor="end">100</text>
<text x="76" y="540" font-size="11" text-anchor="end">75</text>
<text x="80" y="555" font-size="11" text-anchor="middle">1</text>
<text x="230" y="555" font-size="11" text-anchor="middle">2</text>
<text x="380" y="555" font-size="11" text-anchor="middle">4</text>
<text x="467" y="555" font-size="11" text-anchor="middle">6</text>
<text x="530" y="555" font-size="11" text-anchor="middle">8</text>
<text x="578" y="555" font-size="11" text-anchor="middle">10</text>
<text x="680" y="555" font-size="11" text-anchor="middle">16</text>
<text x="252" y="39" font-size="13" textLength="256" lengthAdjust="spacingAndGlyphs">Tromsø 20130117 19:08:00−19:09:43</text>
<text x="332" y="51" font-size="13" textLength="95" lengthAdjust="spacingAndGlyphs">RwPretec (8p)</text>
<text x="632" y="32" font-size="9.5" style="stroke-width:0.25px" textLength="32" lengthAdjust="spacingAndGlyphs">Phases</text>
<text x="609" y="43" font-size="9.5" style="stroke-width:0.25px" textLength="55.5" lengthAdjust="spacingAndGlyphs">mean, sd,O:</text>
<text x="669.6" y="43" font-size="9.5" style="stroke-width:0.25px" textLength="55.6" lengthAdjust="spacingAndGlyphs">−98.0, 17.0</text>
<text x="609" y="54" font-size="9.5" style="stroke-width:0.25px" textLength="55.5" lengthAdjust="spacingAndGlyphs">mean, sd,X:</text>
<text x="673" y="54" font-size="9.5" style="stroke-width:0.25px" textLength="49" lengthAdjust="spacingAndGlyphs">87.4, 22.8</text>
<text x="336" y="567" font-size="11" textLength="88" lengthAdjust="spacingAndGlyphs">Frequency [MHz]</text>
<text transform="translate(48,398) rotate(-90)" x="0" y="0" font-size="12" textLength="195" lengthAdjust="spacingAndGlyphs">Stationary phase Virtual Height [km]</text>
<text x="724" y="84.7" font-size="12.5" textLength="22" lengthAdjust="spacingAndGlyphs">deg</text>
<path d="M718 73h4v1h-3v13h3v1h-4z M747 73h4v15h-4v-1h3v-13h-3z" fill="#000" stroke="none"/>
<text x="748" y="188" font-size="11" textLength="19.4" lengthAdjust="spacingAndGlyphs">100</text>
<text x="747" y="304" font-size="11">0</text>
<text x="748" y="421" font-size="11" textLength="27" lengthAdjust="spacingAndGlyphs">−100</text></svg>
</body></html>
